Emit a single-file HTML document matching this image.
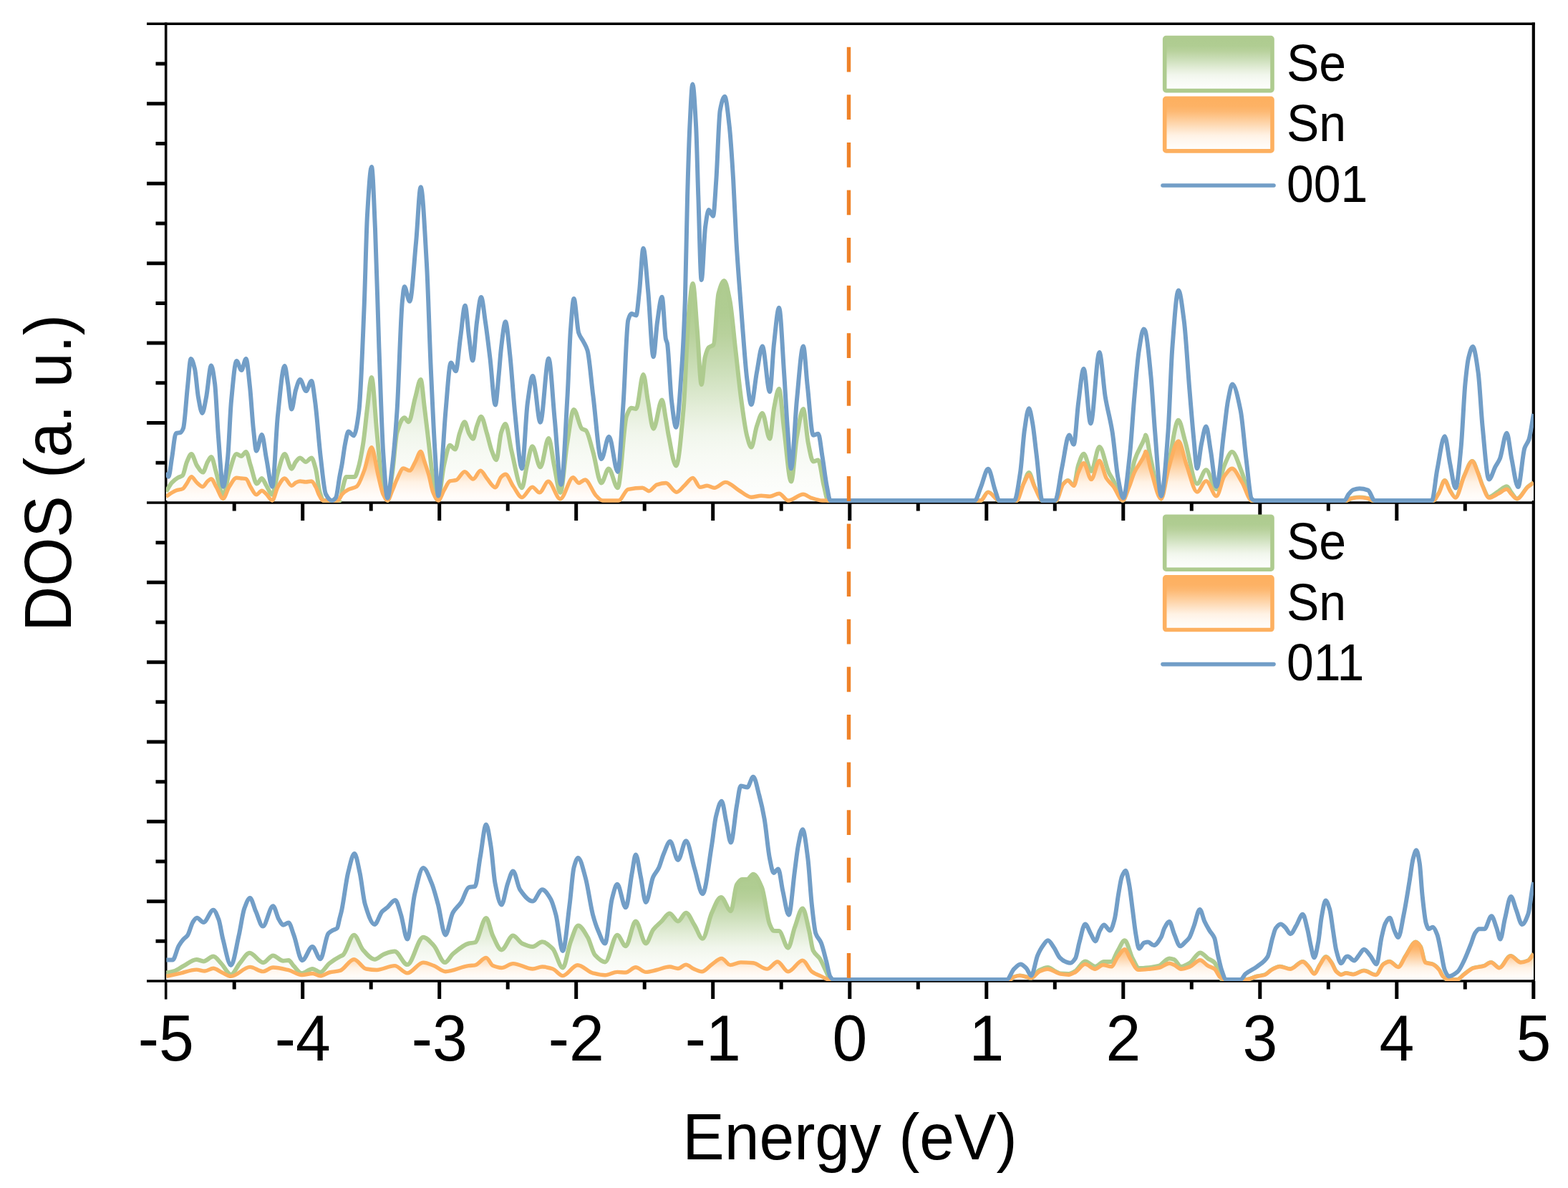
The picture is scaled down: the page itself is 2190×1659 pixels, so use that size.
<!DOCTYPE html>
<html><head><meta charset="utf-8"><title>DOS</title>
<style>
html,body{margin:0;padding:0;background:#fff;}
body{width:2190px;height:1659px;overflow:hidden;}
svg{display:block;filter:blur(0.4px);}
text{font-family:"Liberation Sans",sans-serif;fill:#000;}
.tl text{font-size:86px;}
.lg{font-size:68px;}
.ax{font-size:87.6px;}
</style></head><body>
<svg width="2190" height="1659" viewBox="0 0 2190 1659">
<defs>
<clipPath id="c1"><rect x="231.7" y="33.3" width="1910.1000000000001" height="668.7"/></clipPath>
<clipPath id="c2"><rect x="231.7" y="702.0" width="1910.1000000000001" height="668.0"/></clipPath>
<linearGradient id="lg" x1="0" y1="0" x2="0" y2="1"><stop offset="0" stop-color="#aecb8f"/><stop offset="0.15" stop-color="#b0cd92"/><stop offset="0.25" stop-color="#b8d19c"/><stop offset="0.43" stop-color="#cee0bc"/><stop offset="0.58" stop-color="#e3edd8"/><stop offset="0.7" stop-color="#f1f6ec"/><stop offset="0.8" stop-color="#f7faf4"/><stop offset="0.9" stop-color="#fbfcf9"/><stop offset="1.0" stop-color="#fdfefd"/></linearGradient>
<linearGradient id="lo" x1="0" y1="0" x2="0" y2="1"><stop offset="0" stop-color="#fdb060"/><stop offset="0.15" stop-color="#fdb265"/><stop offset="0.25" stop-color="#fdb973"/><stop offset="0.43" stop-color="#fed0a0"/><stop offset="0.58" stop-color="#fee3c7"/><stop offset="0.7" stop-color="#fff2e4"/><stop offset="0.8" stop-color="#fff7ef"/><stop offset="0.9" stop-color="#fffbf7"/><stop offset="1.0" stop-color="#fffdfc"/></linearGradient>
</defs>
<rect width="2190" height="1659" fill="#fff"/>
<path d="M205,33.3H2143.8" stroke="#000" stroke-width="3.6"/><path d="M231.7,31.499999999999996V1395.5" stroke="#000" stroke-width="3.6"/><path d="M2141.8,31.499999999999996V1371.8" stroke="#000" stroke-width="4.2"/><path d="M205,702.0H2141.8" stroke="#000" stroke-width="3.6"/><path d="M205,1370.0H2141.8" stroke="#000" stroke-width="3.4"/><path d="M217.5,89.0H231.7M205,144.8H231.7M217.5,200.5H231.7M205,256.2H231.7M217.5,311.9H231.7M205,367.7H231.7M217.5,423.4H231.7M205,479.1H231.7M217.5,534.8H231.7M205,590.5H231.7M217.5,646.3H231.7M217.5,757.7H231.7M205,813.3H231.7M217.5,869.0H231.7M205,924.7H231.7M217.5,980.3H231.7M205,1036.0H231.7M217.5,1091.7H231.7M205,1147.3H231.7M217.5,1203.0H231.7M205,1258.7H231.7M217.5,1314.3H231.7M327.2,702.0V713.5M422.7,702.0V727.0M518.2,702.0V713.5M613.7,702.0V727.0M709.2,702.0V713.5M804.7,702.0V727.0M900.2,702.0V713.5M995.7,702.0V727.0M1091.2,702.0V713.5M1186.8,702.0V727.0M1282.3,702.0V713.5M1377.8,702.0V727.0M1473.3,702.0V713.5M1568.8,702.0V727.0M1664.3,702.0V713.5M1759.8,702.0V727.0M1855.3,702.0V713.5M1950.8,702.0V727.0M2046.3,702.0V713.5M327.2,1370.0V1381.5M422.7,1370.0V1395.0M518.2,1370.0V1381.5M613.7,1370.0V1395.0M709.2,1370.0V1381.5M804.7,1370.0V1395.0M900.2,1370.0V1381.5M995.7,1370.0V1395.0M1091.2,1370.0V1381.5M1186.8,1370.0V1395.0M1282.3,1370.0V1381.5M1377.8,1370.0V1395.0M1473.3,1370.0V1381.5M1568.8,1370.0V1395.0M1664.3,1370.0V1381.5M1759.8,1370.0V1395.0M1855.3,1370.0V1381.5M1950.8,1370.0V1395.0M2046.3,1370.0V1381.5M2141.8,1370.0V1395.0" stroke="#000" stroke-width="5" fill="none"/>
<g clip-path="url(#c1)">
<linearGradient id="gg1" gradientUnits="userSpaceOnUse" x1="0" y1="388.9" x2="0" y2="699.0"><stop offset="0" stop-color="#aecb8f"/><stop offset="0.15" stop-color="#b0cd92"/><stop offset="0.25" stop-color="#b8d19c"/><stop offset="0.43" stop-color="#cee0bc"/><stop offset="0.58" stop-color="#e3edd8"/><stop offset="0.7" stop-color="#f1f6ec"/><stop offset="0.8" stop-color="#f7faf4"/><stop offset="0.9" stop-color="#fbfcf9"/><stop offset="1.0" stop-color="#fdfefd"/></linearGradient>
<linearGradient id="og1" gradientUnits="userSpaceOnUse" x1="0" y1="613.0" x2="0" y2="699.0"><stop offset="0" stop-color="#fdb060"/><stop offset="0.15" stop-color="#fdb265"/><stop offset="0.25" stop-color="#fdb973"/><stop offset="0.43" stop-color="#fed0a0"/><stop offset="0.58" stop-color="#fee3c7"/><stop offset="0.7" stop-color="#fff2e4"/><stop offset="0.8" stop-color="#fff7ef"/><stop offset="0.9" stop-color="#fffbf7"/><stop offset="1.0" stop-color="#fffdfc"/></linearGradient>
<path d="M232.0,686.5C234.7,682.3 237.3,676.9 240.0,674.0C242.9,670.9 245.7,668.7 248.6,667.0C250.7,665.7 252.9,665.8 255.0,664.0C257.0,662.4 259.0,649.5 261.0,645.0C263.1,640.3 265.2,634.0 267.3,634.0C269.9,634.0 272.4,646.1 275.0,650.0C277.7,654.1 280.5,659.6 283.2,659.6C285.5,659.6 287.7,648.8 290.0,645.0C291.7,642.2 293.3,638.0 295.0,638.0C297.3,638.0 299.7,652.5 302.0,660.0C305.2,670.4 308.5,692.0 311.7,692.0C314.5,692.0 317.2,668.5 320.0,660.0C323.5,649.4 326.9,634.0 330.4,634.0C332.6,634.0 334.8,637.0 337.0,637.0C339.2,637.0 341.4,631.0 343.6,631.0C345.7,631.0 347.9,643.7 350.0,650.0C352.9,658.6 355.9,675.5 358.8,675.5C361.1,675.5 363.4,668.0 365.7,668.0C367.8,668.0 369.9,674.7 372.0,678.0C374.8,682.3 377.5,690.8 380.3,690.8C382.9,690.8 385.4,668.3 388.0,660.0C391.2,649.6 394.4,634.0 397.6,634.0C400.8,634.0 404.1,654.7 407.3,654.7C409.2,654.7 411.1,647.2 413.0,645.0C415.0,642.6 417.1,639.5 419.1,639.5C421.7,639.5 424.4,645.0 427.0,645.0C429.7,645.0 432.4,639.5 435.1,639.5C437.1,639.5 439.0,647.9 441.0,655.0C442.9,662.0 444.9,682.1 446.8,688.0C448.5,693.3 450.3,699.0 452.0,699.0C459.6,699.0 467.2,699.0 474.8,699.0C476.2,699.0 477.6,685.1 479.0,680.0C480.5,674.4 482.1,666.0 483.6,666.0C487.5,666.0 491.5,666.0 495.4,666.0C496.9,666.0 498.5,659.8 500.0,655.0C502.4,647.3 504.9,634.2 507.3,618.7C509.2,606.6 511.1,584.8 513.0,570.0C515.0,554.4 517.0,527.1 519.0,527.1C521.5,527.1 523.9,578.9 526.4,604.0C528.6,626.4 530.8,658.3 533.0,670.0C535.7,684.5 538.5,699.0 541.2,699.0C543.5,699.0 545.7,675.6 548.0,660.0C550.2,645.1 552.3,611.4 554.5,604.0C557.9,592.3 561.4,583.3 564.8,583.3C566.8,583.3 568.7,589.2 570.7,589.2C573.8,589.2 576.9,565.7 580.0,555.0C582.5,546.2 585.1,530.1 587.6,530.1C589.4,530.1 591.2,555.9 593.0,570.0C594.9,585.2 596.9,602.6 598.8,618.7C600.9,635.9 602.9,659.6 605.0,670.0C607.4,682.0 609.7,695.5 612.1,695.5C614.7,695.5 617.4,661.3 620.0,650.0C622.8,638.1 625.5,621.7 628.3,621.7C630.8,621.7 633.2,627.6 635.7,627.6C637.8,627.6 639.9,610.8 642.0,605.0C644.3,598.5 646.7,589.2 649.0,589.2C651.0,589.2 653.0,601.4 655.0,605.0C656.9,608.4 658.9,612.8 660.8,612.8C662.5,612.8 664.3,599.7 666.0,595.0C668.0,589.6 670.0,581.8 672.0,581.8C674.7,581.8 677.3,596.4 680.0,605.0C682.3,612.5 684.7,624.1 687.0,630.0C689.1,635.3 691.2,642.3 693.3,642.3C695.5,642.3 697.8,610.6 700.0,604.0C702.0,598.1 704.0,592.0 706.0,592.0C708.8,592.0 711.7,618.7 714.5,630.0C719.3,649.3 724.2,681.2 729.0,681.2C731.3,681.2 733.7,659.3 736.0,650.0C738.5,640.1 741.0,623.2 743.5,623.2C747.2,623.2 751.0,652.2 754.7,652.2C758.6,652.2 762.4,612.1 766.3,612.1C768.9,612.1 771.4,638.1 774.0,650.0C776.9,663.3 779.7,687.9 782.6,687.9C785.7,687.9 788.9,638.7 792.0,620.0C795.2,601.1 798.3,571.9 801.5,571.9C805.2,571.9 809.0,596.2 812.7,598.7C814.5,599.9 816.4,599.7 818.2,601.0C821.5,603.2 824.7,619.2 828.0,630.0C832.0,643.1 835.9,674.5 839.9,674.5C843.3,674.5 846.7,654.4 850.1,654.4C854.3,654.4 858.6,681.2 862.8,681.2C866.9,681.2 871.0,591.6 875.1,580.9C877.3,575.1 879.6,569.7 881.8,569.7C884.0,569.7 886.3,571.0 888.5,571.0C891.8,571.0 895.2,522.9 898.5,522.9C900.7,522.9 902.8,548.3 905.0,560.0C907.5,573.7 910.1,598.7 912.6,598.7C916.6,598.7 920.6,558.6 924.6,558.6C926.4,558.6 928.2,575.5 930.0,585.3C931.3,592.4 932.6,602.2 933.9,608.7C937.4,625.9 940.8,650.5 944.3,650.5C947.8,650.5 951.3,608.3 954.8,568.9C957.1,542.7 959.5,464.1 961.8,439.7C963.8,419.1 965.7,395.9 967.7,395.9C969.7,395.9 971.7,436.3 973.7,459.6C975.7,482.9 977.7,537.1 979.7,537.1C981.3,537.1 983.0,506.0 984.6,499.3C986.3,492.5 987.9,487.0 989.6,485.4C991.9,483.1 994.3,483.9 996.6,481.4C998.9,478.9 1001.2,418.4 1003.5,409.8C1006.2,399.8 1008.8,391.9 1011.5,391.9C1014.1,391.9 1016.8,406.6 1019.4,419.8C1022.1,433.2 1024.7,466.2 1027.4,489.4C1030.1,512.6 1032.7,539.5 1035.4,559.0C1038.0,578.2 1040.7,599.1 1043.3,608.7C1045.3,616.0 1047.3,624.6 1049.3,624.6C1051.9,624.6 1054.4,602.4 1057.0,595.0C1059.6,587.5 1062.2,576.9 1064.8,576.9C1068.2,576.9 1071.7,612.7 1075.1,612.7C1077.1,612.7 1079.0,579.9 1081.0,570.0C1083.4,558.1 1085.7,543.1 1088.1,543.1C1090.4,543.1 1092.7,581.0 1095.0,598.8C1098.3,624.5 1101.7,672.4 1105.0,672.4C1107.7,672.4 1110.3,625.1 1113.0,610.0C1116.0,593.2 1118.9,570.9 1121.9,570.9C1124.2,570.9 1126.5,607.6 1128.8,618.7C1131.1,629.9 1133.5,644.5 1135.8,644.5C1138.1,644.5 1140.5,642.5 1142.8,642.5C1145.4,642.5 1148.1,668.0 1150.7,678.3C1152.7,686.1 1154.7,699.0 1156.7,699.0C1166.1,699.0 1175.6,699.0 1185.0,699.0C1246.7,699.0 1308.3,699.0 1370.0,699.0C1373.4,699.0 1376.7,687.4 1380.1,687.4C1385.3,687.4 1390.4,699.0 1395.6,699.0C1403.7,699.0 1411.9,699.0 1420.0,699.0C1423.3,699.0 1426.7,682.5 1430.0,675.0C1432.4,669.7 1434.7,660.0 1437.1,660.0C1439.7,660.0 1442.4,674.5 1445.0,680.0C1448.6,687.5 1452.2,699.0 1455.8,699.0C1462.2,699.0 1468.6,699.0 1475.0,699.0C1478.4,699.0 1481.7,679.7 1485.1,676.0C1487.3,673.6 1489.4,671.1 1491.6,671.1C1494.3,671.1 1497.0,678.4 1499.7,678.4C1501.8,678.4 1503.9,656.2 1506.0,650.0C1508.5,642.6 1511.1,633.7 1513.6,633.7C1517.1,633.7 1520.7,658.1 1524.2,658.1C1528.0,658.1 1531.7,623.9 1535.5,623.9C1539.9,623.9 1544.2,650.6 1548.6,659.7C1550.8,664.2 1552.9,666.9 1555.1,671.0C1559.4,679.2 1563.8,699.0 1568.1,699.0C1571.1,699.0 1574.0,688.9 1577.0,680.0C1579.5,672.6 1581.9,651.5 1584.4,643.5C1589.4,627.5 1594.3,624.0 1599.3,609.9C1599.5,609.2 1599.8,607.6 1600.0,607.6C1602.3,607.6 1604.7,630.1 1607.0,640.0C1611.9,660.9 1616.9,696.7 1621.8,696.7C1625.2,696.7 1628.6,665.5 1632.0,650.0C1636.6,628.9 1641.3,586.8 1645.9,586.8C1648.9,586.8 1652.0,605.0 1655.0,615.0C1660.7,633.6 1666.3,675.5 1672.0,675.5C1676.2,675.5 1680.3,656.2 1684.5,656.2C1689.3,656.2 1694.2,683.2 1699.0,683.2C1702.7,683.2 1706.3,658.1 1710.0,650.0C1713.6,642.0 1717.2,631.1 1720.8,631.1C1725.4,631.1 1730.1,648.9 1734.7,660.1C1739.2,671.0 1743.7,699.0 1748.2,699.0C1749.5,699.0 1750.7,699.0 1752.0,699.0C1794.7,699.0 1837.3,699.0 1880.0,699.0C1882.7,699.0 1885.3,696.5 1888.0,696.0C1891.6,695.3 1895.2,694.6 1898.8,694.6C1902.5,694.6 1906.3,695.3 1910.0,696.0C1912.7,696.5 1915.3,699.0 1918.0,699.0C1946.0,699.0 1974.0,699.0 2002.0,699.0C2004.7,699.0 2007.3,692.5 2010.0,688.0C2012.6,683.6 2015.2,671.0 2017.8,671.0C2020.2,671.0 2022.6,681.3 2025.0,685.0C2027.6,689.1 2030.3,695.1 2032.9,695.1C2036.9,695.1 2041.0,673.6 2045.0,665.0C2048.8,657.0 2052.5,643.9 2056.3,643.9C2058.9,643.9 2061.4,653.8 2064.0,660.0C2066.2,665.3 2068.4,673.7 2070.6,678.5C2073.6,685.0 2076.6,694.0 2079.6,694.0C2084.1,694.0 2088.7,688.7 2093.2,686.0C2097.0,683.8 2100.7,679.3 2104.5,679.3C2106.7,679.3 2108.8,685.4 2111.0,688.0C2113.6,691.2 2116.2,696.6 2118.8,696.6C2123.8,696.6 2128.9,684.4 2133.9,680.0C2136.6,677.7 2139.3,676.0 2142.0,674.0L2142.0,699.0L232.0,699.0Z" fill="url(#gg1)" stroke="none"/>
<path d="M232.0,686.5C234.7,682.3 237.3,676.9 240.0,674.0C242.9,670.9 245.7,668.7 248.6,667.0C250.7,665.7 252.9,665.8 255.0,664.0C257.0,662.4 259.0,649.5 261.0,645.0C263.1,640.3 265.2,634.0 267.3,634.0C269.9,634.0 272.4,646.1 275.0,650.0C277.7,654.1 280.5,659.6 283.2,659.6C285.5,659.6 287.7,648.8 290.0,645.0C291.7,642.2 293.3,638.0 295.0,638.0C297.3,638.0 299.7,652.5 302.0,660.0C305.2,670.4 308.5,692.0 311.7,692.0C314.5,692.0 317.2,668.5 320.0,660.0C323.5,649.4 326.9,634.0 330.4,634.0C332.6,634.0 334.8,637.0 337.0,637.0C339.2,637.0 341.4,631.0 343.6,631.0C345.7,631.0 347.9,643.7 350.0,650.0C352.9,658.6 355.9,675.5 358.8,675.5C361.1,675.5 363.4,668.0 365.7,668.0C367.8,668.0 369.9,674.7 372.0,678.0C374.8,682.3 377.5,690.8 380.3,690.8C382.9,690.8 385.4,668.3 388.0,660.0C391.2,649.6 394.4,634.0 397.6,634.0C400.8,634.0 404.1,654.7 407.3,654.7C409.2,654.7 411.1,647.2 413.0,645.0C415.0,642.6 417.1,639.5 419.1,639.5C421.7,639.5 424.4,645.0 427.0,645.0C429.7,645.0 432.4,639.5 435.1,639.5C437.1,639.5 439.0,647.9 441.0,655.0C442.9,662.0 444.9,682.1 446.8,688.0C448.5,693.3 450.3,699.0 452.0,699.0C459.6,699.0 467.2,699.0 474.8,699.0C476.2,699.0 477.6,685.1 479.0,680.0C480.5,674.4 482.1,666.0 483.6,666.0C487.5,666.0 491.5,666.0 495.4,666.0C496.9,666.0 498.5,659.8 500.0,655.0C502.4,647.3 504.9,634.2 507.3,618.7C509.2,606.6 511.1,584.8 513.0,570.0C515.0,554.4 517.0,527.1 519.0,527.1C521.5,527.1 523.9,578.9 526.4,604.0C528.6,626.4 530.8,658.3 533.0,670.0C535.7,684.5 538.5,699.0 541.2,699.0C543.5,699.0 545.7,675.6 548.0,660.0C550.2,645.1 552.3,611.4 554.5,604.0C557.9,592.3 561.4,583.3 564.8,583.3C566.8,583.3 568.7,589.2 570.7,589.2C573.8,589.2 576.9,565.7 580.0,555.0C582.5,546.2 585.1,530.1 587.6,530.1C589.4,530.1 591.2,555.9 593.0,570.0C594.9,585.2 596.9,602.6 598.8,618.7C600.9,635.9 602.9,659.6 605.0,670.0C607.4,682.0 609.7,695.5 612.1,695.5C614.7,695.5 617.4,661.3 620.0,650.0C622.8,638.1 625.5,621.7 628.3,621.7C630.8,621.7 633.2,627.6 635.7,627.6C637.8,627.6 639.9,610.8 642.0,605.0C644.3,598.5 646.7,589.2 649.0,589.2C651.0,589.2 653.0,601.4 655.0,605.0C656.9,608.4 658.9,612.8 660.8,612.8C662.5,612.8 664.3,599.7 666.0,595.0C668.0,589.6 670.0,581.8 672.0,581.8C674.7,581.8 677.3,596.4 680.0,605.0C682.3,612.5 684.7,624.1 687.0,630.0C689.1,635.3 691.2,642.3 693.3,642.3C695.5,642.3 697.8,610.6 700.0,604.0C702.0,598.1 704.0,592.0 706.0,592.0C708.8,592.0 711.7,618.7 714.5,630.0C719.3,649.3 724.2,681.2 729.0,681.2C731.3,681.2 733.7,659.3 736.0,650.0C738.5,640.1 741.0,623.2 743.5,623.2C747.2,623.2 751.0,652.2 754.7,652.2C758.6,652.2 762.4,612.1 766.3,612.1C768.9,612.1 771.4,638.1 774.0,650.0C776.9,663.3 779.7,687.9 782.6,687.9C785.7,687.9 788.9,638.7 792.0,620.0C795.2,601.1 798.3,571.9 801.5,571.9C805.2,571.9 809.0,596.2 812.7,598.7C814.5,599.9 816.4,599.7 818.2,601.0C821.5,603.2 824.7,619.2 828.0,630.0C832.0,643.1 835.9,674.5 839.9,674.5C843.3,674.5 846.7,654.4 850.1,654.4C854.3,654.4 858.6,681.2 862.8,681.2C866.9,681.2 871.0,591.6 875.1,580.9C877.3,575.1 879.6,569.7 881.8,569.7C884.0,569.7 886.3,571.0 888.5,571.0C891.8,571.0 895.2,522.9 898.5,522.9C900.7,522.9 902.8,548.3 905.0,560.0C907.5,573.7 910.1,598.7 912.6,598.7C916.6,598.7 920.6,558.6 924.6,558.6C926.4,558.6 928.2,575.5 930.0,585.3C931.3,592.4 932.6,602.2 933.9,608.7C937.4,625.9 940.8,650.5 944.3,650.5C947.8,650.5 951.3,608.3 954.8,568.9C957.1,542.7 959.5,464.1 961.8,439.7C963.8,419.1 965.7,395.9 967.7,395.9C969.7,395.9 971.7,436.3 973.7,459.6C975.7,482.9 977.7,537.1 979.7,537.1C981.3,537.1 983.0,506.0 984.6,499.3C986.3,492.5 987.9,487.0 989.6,485.4C991.9,483.1 994.3,483.9 996.6,481.4C998.9,478.9 1001.2,418.4 1003.5,409.8C1006.2,399.8 1008.8,391.9 1011.5,391.9C1014.1,391.9 1016.8,406.6 1019.4,419.8C1022.1,433.2 1024.7,466.2 1027.4,489.4C1030.1,512.6 1032.7,539.5 1035.4,559.0C1038.0,578.2 1040.7,599.1 1043.3,608.7C1045.3,616.0 1047.3,624.6 1049.3,624.6C1051.9,624.6 1054.4,602.4 1057.0,595.0C1059.6,587.5 1062.2,576.9 1064.8,576.9C1068.2,576.9 1071.7,612.7 1075.1,612.7C1077.1,612.7 1079.0,579.9 1081.0,570.0C1083.4,558.1 1085.7,543.1 1088.1,543.1C1090.4,543.1 1092.7,581.0 1095.0,598.8C1098.3,624.5 1101.7,672.4 1105.0,672.4C1107.7,672.4 1110.3,625.1 1113.0,610.0C1116.0,593.2 1118.9,570.9 1121.9,570.9C1124.2,570.9 1126.5,607.6 1128.8,618.7C1131.1,629.9 1133.5,644.5 1135.8,644.5C1138.1,644.5 1140.5,642.5 1142.8,642.5C1145.4,642.5 1148.1,668.0 1150.7,678.3C1152.7,686.1 1154.7,699.0 1156.7,699.0C1166.1,699.0 1175.6,699.0 1185.0,699.0C1246.7,699.0 1308.3,699.0 1370.0,699.0C1373.4,699.0 1376.7,687.4 1380.1,687.4C1385.3,687.4 1390.4,699.0 1395.6,699.0C1403.7,699.0 1411.9,699.0 1420.0,699.0C1423.3,699.0 1426.7,682.5 1430.0,675.0C1432.4,669.7 1434.7,660.0 1437.1,660.0C1439.7,660.0 1442.4,674.5 1445.0,680.0C1448.6,687.5 1452.2,699.0 1455.8,699.0C1462.2,699.0 1468.6,699.0 1475.0,699.0C1478.4,699.0 1481.7,679.7 1485.1,676.0C1487.3,673.6 1489.4,671.1 1491.6,671.1C1494.3,671.1 1497.0,678.4 1499.7,678.4C1501.8,678.4 1503.9,656.2 1506.0,650.0C1508.5,642.6 1511.1,633.7 1513.6,633.7C1517.1,633.7 1520.7,658.1 1524.2,658.1C1528.0,658.1 1531.7,623.9 1535.5,623.9C1539.9,623.9 1544.2,650.6 1548.6,659.7C1550.8,664.2 1552.9,666.9 1555.1,671.0C1559.4,679.2 1563.8,699.0 1568.1,699.0C1571.1,699.0 1574.0,688.9 1577.0,680.0C1579.5,672.6 1581.9,651.5 1584.4,643.5C1589.4,627.5 1594.3,624.0 1599.3,609.9C1599.5,609.2 1599.8,607.6 1600.0,607.6C1602.3,607.6 1604.7,630.1 1607.0,640.0C1611.9,660.9 1616.9,696.7 1621.8,696.7C1625.2,696.7 1628.6,665.5 1632.0,650.0C1636.6,628.9 1641.3,586.8 1645.9,586.8C1648.9,586.8 1652.0,605.0 1655.0,615.0C1660.7,633.6 1666.3,675.5 1672.0,675.5C1676.2,675.5 1680.3,656.2 1684.5,656.2C1689.3,656.2 1694.2,683.2 1699.0,683.2C1702.7,683.2 1706.3,658.1 1710.0,650.0C1713.6,642.0 1717.2,631.1 1720.8,631.1C1725.4,631.1 1730.1,648.9 1734.7,660.1C1739.2,671.0 1743.7,699.0 1748.2,699.0C1749.5,699.0 1750.7,699.0 1752.0,699.0C1794.7,699.0 1837.3,699.0 1880.0,699.0C1882.7,699.0 1885.3,696.5 1888.0,696.0C1891.6,695.3 1895.2,694.6 1898.8,694.6C1902.5,694.6 1906.3,695.3 1910.0,696.0C1912.7,696.5 1915.3,699.0 1918.0,699.0C1946.0,699.0 1974.0,699.0 2002.0,699.0C2004.7,699.0 2007.3,692.5 2010.0,688.0C2012.6,683.6 2015.2,671.0 2017.8,671.0C2020.2,671.0 2022.6,681.3 2025.0,685.0C2027.6,689.1 2030.3,695.1 2032.9,695.1C2036.9,695.1 2041.0,673.6 2045.0,665.0C2048.8,657.0 2052.5,643.9 2056.3,643.9C2058.9,643.9 2061.4,653.8 2064.0,660.0C2066.2,665.3 2068.4,673.7 2070.6,678.5C2073.6,685.0 2076.6,694.0 2079.6,694.0C2084.1,694.0 2088.7,688.7 2093.2,686.0C2097.0,683.8 2100.7,679.3 2104.5,679.3C2106.7,679.3 2108.8,685.4 2111.0,688.0C2113.6,691.2 2116.2,696.6 2118.8,696.6C2123.8,696.6 2128.9,684.4 2133.9,680.0C2136.6,677.7 2139.3,676.0 2142.0,674.0" fill="none" stroke="#aecb8f" stroke-width="6" stroke-linejoin="round"/>
<path d="M232.0,693.5C234.7,691.7 237.3,689.6 240.0,688.0C241.9,686.9 243.9,685.7 245.8,685.0C249.0,683.8 252.3,683.9 255.5,682.4C257.3,681.5 259.2,677.6 261.0,675.0C263.1,672.1 265.2,665.8 267.3,665.8C269.9,665.8 272.4,671.8 275.0,674.0C277.7,676.3 280.5,679.7 283.2,679.7C285.5,679.7 287.7,673.9 290.0,672.0C291.7,670.6 293.3,668.6 295.0,668.6C297.3,668.6 299.7,676.1 302.0,680.0C305.2,685.3 308.5,696.3 311.7,696.3C314.5,696.3 317.2,684.2 320.0,680.0C323.5,674.7 326.9,667.2 330.4,667.2C332.6,667.2 334.8,667.8 337.0,668.0C339.2,668.2 341.4,668.2 343.6,668.6C345.7,669.0 347.9,676.7 350.0,680.0C352.7,684.1 355.4,690.8 358.1,690.8C360.6,690.8 363.2,685.2 365.7,685.2C367.8,685.2 369.9,688.1 372.0,690.0C374.8,692.5 377.5,699.0 380.3,699.0C382.9,699.0 385.4,684.3 388.0,680.0C391.2,674.6 394.4,668.0 397.6,668.0C400.8,668.0 404.1,678.3 407.3,678.3C409.2,678.3 411.1,674.9 413.0,674.0C415.0,673.1 417.1,672.0 419.1,672.0C421.7,672.0 424.4,673.0 427.0,673.0C429.7,673.0 432.4,672.0 435.1,672.0C437.1,672.0 439.0,676.6 441.0,680.0C442.7,682.9 444.3,689.1 446.0,692.0C447.7,694.9 449.3,699.0 451.0,699.0C454.0,699.0 457.0,699.0 460.0,699.0C463.9,699.0 467.9,699.0 471.8,699.0C473.9,699.0 475.9,692.0 478.0,690.0C480.9,687.2 483.7,685.2 486.6,683.7C490.5,681.7 494.5,681.8 498.4,679.2C501.8,676.9 505.3,665.9 508.7,657.1C512.1,648.3 515.6,624.6 519.0,624.6C522.0,624.6 525.0,650.9 528.0,663.0C530.3,672.4 532.7,685.1 535.0,690.0C537.1,694.3 539.1,699.0 541.2,699.0C543.5,699.0 545.7,690.1 548.0,685.0C550.2,680.1 552.3,673.4 554.5,669.0C557.5,663.0 560.4,654.0 563.4,654.0C566.3,654.0 569.3,657.1 572.2,657.1C574.8,657.1 577.4,649.5 580.0,645.0C582.5,640.7 585.1,630.5 587.6,630.5C589.4,630.5 591.2,639.8 593.0,645.0C594.9,650.6 596.9,656.2 598.8,663.0C600.9,670.2 602.9,683.3 605.0,688.0C607.4,693.4 609.7,699.0 612.1,699.0C614.7,699.0 617.4,689.4 620.0,685.0C622.8,680.4 625.5,672.8 628.3,671.9C631.3,671.0 634.2,671.2 637.2,670.4C641.1,669.3 645.1,658.6 649.0,658.6C652.9,658.6 656.9,669.0 660.8,669.0C664.3,669.0 667.7,657.1 671.2,657.1C674.1,657.1 677.1,664.6 680.0,668.0C683.9,672.5 687.9,680.7 691.8,680.7C694.5,680.7 697.3,668.4 700.0,666.0C702.0,664.2 704.0,662.3 706.0,662.3C709.6,662.3 713.2,674.0 716.8,679.0C720.9,684.7 724.9,694.6 729.0,694.6C733.8,694.6 738.7,680.1 743.5,680.1C746.9,680.1 750.2,687.9 753.6,687.9C757.7,687.9 761.7,672.3 765.8,672.3C771.4,672.3 777.0,696.8 782.6,696.8C788.5,696.8 794.5,666.7 800.4,666.7C803.0,666.7 805.6,674.5 808.2,674.5C811.2,674.5 814.1,670.0 817.1,670.0C822.3,670.0 827.5,687.5 832.7,692.4C835.7,695.2 838.6,699.0 841.6,699.0C849.1,699.0 856.5,699.0 864.0,699.0C868.4,699.0 872.9,684.3 877.3,683.4C884.0,682.0 890.7,681.2 897.4,681.2C900.4,681.2 903.3,685.7 906.3,685.7C910.0,685.7 913.8,677.9 917.5,676.8C921.7,675.5 925.8,674.5 930.0,674.5C935.0,674.5 939.9,687.3 944.9,687.3C948.6,687.3 952.3,681.2 956.0,678.0C959.9,674.6 963.8,667.4 967.7,667.4C971.0,667.4 974.4,680.3 977.7,680.3C981.0,680.3 984.3,678.3 987.6,678.3C990.9,678.3 994.3,681.3 997.6,681.3C1002.9,681.3 1008.2,673.4 1013.5,673.4C1019.5,673.4 1025.4,680.8 1031.4,684.3C1037.4,687.8 1043.3,694.2 1049.3,694.2C1053.9,694.2 1058.6,692.3 1063.2,692.3C1067.2,692.3 1071.1,693.3 1075.1,693.3C1079.4,693.3 1083.8,689.3 1088.1,689.3C1092.4,689.3 1096.7,699.0 1101.0,699.0C1108.0,699.0 1114.9,690.3 1121.9,690.3C1125.5,690.3 1129.2,694.0 1132.8,695.2C1138.1,696.9 1143.4,699.0 1148.7,699.0C1151.4,699.0 1154.0,699.0 1156.7,699.0C1166.1,699.0 1175.6,699.0 1185.0,699.0C1246.7,699.0 1308.3,699.0 1370.0,699.0C1373.4,699.0 1376.7,687.4 1380.1,687.4C1385.3,687.4 1390.4,699.0 1395.6,699.0C1403.7,699.0 1411.9,699.0 1420.0,699.0C1423.3,699.0 1426.7,681.5 1430.0,675.0C1432.4,670.4 1434.7,663.0 1437.1,663.0C1439.7,663.0 1442.4,674.9 1445.0,680.0C1448.6,687.0 1452.2,699.0 1455.8,699.0C1462.2,699.0 1468.6,699.0 1475.0,699.0C1478.4,699.0 1481.7,679.7 1485.1,676.0C1487.3,673.6 1489.4,671.1 1491.6,671.1C1494.3,671.1 1497.0,678.4 1499.7,678.4C1501.8,678.4 1503.9,664.6 1506.0,660.0C1508.5,654.4 1511.1,646.7 1513.6,646.7C1517.1,646.7 1520.7,669.5 1524.2,669.5C1528.0,669.5 1531.7,643.5 1535.5,643.5C1538.8,643.5 1542.0,662.7 1545.3,667.9C1548.6,673.1 1551.8,675.0 1555.1,679.3C1559.4,685.0 1563.8,699.0 1568.1,699.0C1571.1,699.0 1574.0,687.2 1577.0,680.0C1579.5,674.1 1581.9,665.2 1584.4,659.7C1589.4,648.7 1594.3,646.4 1599.3,633.0C1599.5,632.4 1599.8,630.4 1600.0,630.4C1602.3,630.4 1604.7,647.6 1607.0,655.0C1611.9,670.6 1616.9,696.7 1621.8,696.7C1625.2,696.7 1628.6,666.4 1632.0,655.0C1636.6,639.4 1641.3,616.0 1645.9,616.0C1649.8,616.0 1653.6,639.8 1657.5,650.4C1662.3,663.6 1667.2,687.0 1672.0,687.0C1676.2,687.0 1680.3,671.6 1684.5,671.6C1689.3,671.6 1694.2,692.9 1699.0,692.9C1702.7,692.9 1706.3,670.2 1710.0,665.0C1713.6,659.9 1717.2,654.3 1720.8,654.3C1725.4,654.3 1730.1,666.2 1734.7,673.6C1739.2,680.8 1743.7,699.0 1748.2,699.0C1749.5,699.0 1750.7,699.0 1752.0,699.0C1794.7,699.0 1837.3,699.0 1880.0,699.0C1882.7,699.0 1885.3,696.5 1888.0,696.0C1891.6,695.3 1895.2,694.6 1898.8,694.6C1902.5,694.6 1906.3,695.3 1910.0,696.0C1912.7,696.5 1915.3,699.0 1918.0,699.0C1946.0,699.0 1974.0,699.0 2002.0,699.0C2004.7,699.0 2007.3,692.5 2010.0,688.0C2012.6,683.6 2015.2,671.0 2017.8,671.0C2020.2,671.0 2022.6,681.3 2025.0,685.0C2027.6,689.1 2030.3,695.1 2032.9,695.1C2036.9,695.1 2041.0,673.6 2045.0,665.0C2048.8,657.0 2052.5,643.9 2056.3,643.9C2058.9,643.9 2061.4,653.8 2064.0,660.0C2066.2,665.3 2068.4,673.6 2070.6,678.5C2073.6,685.2 2076.6,695.1 2079.6,695.1C2084.1,695.1 2088.7,691.3 2093.2,689.1C2097.0,687.3 2100.7,683.1 2104.5,683.1C2106.7,683.1 2108.8,688.0 2111.0,690.0C2113.6,692.5 2116.2,696.6 2118.8,696.6C2123.8,696.6 2128.9,684.4 2133.9,680.0C2136.6,677.7 2139.3,676.0 2142.0,674.0L2142.0,699.0L232.0,699.0Z" fill="url(#og1)" stroke="none"/>
<path d="M232.0,693.5C234.7,691.7 237.3,689.6 240.0,688.0C241.9,686.9 243.9,685.7 245.8,685.0C249.0,683.8 252.3,683.9 255.5,682.4C257.3,681.5 259.2,677.6 261.0,675.0C263.1,672.1 265.2,665.8 267.3,665.8C269.9,665.8 272.4,671.8 275.0,674.0C277.7,676.3 280.5,679.7 283.2,679.7C285.5,679.7 287.7,673.9 290.0,672.0C291.7,670.6 293.3,668.6 295.0,668.6C297.3,668.6 299.7,676.1 302.0,680.0C305.2,685.3 308.5,696.3 311.7,696.3C314.5,696.3 317.2,684.2 320.0,680.0C323.5,674.7 326.9,667.2 330.4,667.2C332.6,667.2 334.8,667.8 337.0,668.0C339.2,668.2 341.4,668.2 343.6,668.6C345.7,669.0 347.9,676.7 350.0,680.0C352.7,684.1 355.4,690.8 358.1,690.8C360.6,690.8 363.2,685.2 365.7,685.2C367.8,685.2 369.9,688.1 372.0,690.0C374.8,692.5 377.5,699.0 380.3,699.0C382.9,699.0 385.4,684.3 388.0,680.0C391.2,674.6 394.4,668.0 397.6,668.0C400.8,668.0 404.1,678.3 407.3,678.3C409.2,678.3 411.1,674.9 413.0,674.0C415.0,673.1 417.1,672.0 419.1,672.0C421.7,672.0 424.4,673.0 427.0,673.0C429.7,673.0 432.4,672.0 435.1,672.0C437.1,672.0 439.0,676.6 441.0,680.0C442.7,682.9 444.3,689.1 446.0,692.0C447.7,694.9 449.3,699.0 451.0,699.0C454.0,699.0 457.0,699.0 460.0,699.0C463.9,699.0 467.9,699.0 471.8,699.0C473.9,699.0 475.9,692.0 478.0,690.0C480.9,687.2 483.7,685.2 486.6,683.7C490.5,681.7 494.5,681.8 498.4,679.2C501.8,676.9 505.3,665.9 508.7,657.1C512.1,648.3 515.6,624.6 519.0,624.6C522.0,624.6 525.0,650.9 528.0,663.0C530.3,672.4 532.7,685.1 535.0,690.0C537.1,694.3 539.1,699.0 541.2,699.0C543.5,699.0 545.7,690.1 548.0,685.0C550.2,680.1 552.3,673.4 554.5,669.0C557.5,663.0 560.4,654.0 563.4,654.0C566.3,654.0 569.3,657.1 572.2,657.1C574.8,657.1 577.4,649.5 580.0,645.0C582.5,640.7 585.1,630.5 587.6,630.5C589.4,630.5 591.2,639.8 593.0,645.0C594.9,650.6 596.9,656.2 598.8,663.0C600.9,670.2 602.9,683.3 605.0,688.0C607.4,693.4 609.7,699.0 612.1,699.0C614.7,699.0 617.4,689.4 620.0,685.0C622.8,680.4 625.5,672.8 628.3,671.9C631.3,671.0 634.2,671.2 637.2,670.4C641.1,669.3 645.1,658.6 649.0,658.6C652.9,658.6 656.9,669.0 660.8,669.0C664.3,669.0 667.7,657.1 671.2,657.1C674.1,657.1 677.1,664.6 680.0,668.0C683.9,672.5 687.9,680.7 691.8,680.7C694.5,680.7 697.3,668.4 700.0,666.0C702.0,664.2 704.0,662.3 706.0,662.3C709.6,662.3 713.2,674.0 716.8,679.0C720.9,684.7 724.9,694.6 729.0,694.6C733.8,694.6 738.7,680.1 743.5,680.1C746.9,680.1 750.2,687.9 753.6,687.9C757.7,687.9 761.7,672.3 765.8,672.3C771.4,672.3 777.0,696.8 782.6,696.8C788.5,696.8 794.5,666.7 800.4,666.7C803.0,666.7 805.6,674.5 808.2,674.5C811.2,674.5 814.1,670.0 817.1,670.0C822.3,670.0 827.5,687.5 832.7,692.4C835.7,695.2 838.6,699.0 841.6,699.0C849.1,699.0 856.5,699.0 864.0,699.0C868.4,699.0 872.9,684.3 877.3,683.4C884.0,682.0 890.7,681.2 897.4,681.2C900.4,681.2 903.3,685.7 906.3,685.7C910.0,685.7 913.8,677.9 917.5,676.8C921.7,675.5 925.8,674.5 930.0,674.5C935.0,674.5 939.9,687.3 944.9,687.3C948.6,687.3 952.3,681.2 956.0,678.0C959.9,674.6 963.8,667.4 967.7,667.4C971.0,667.4 974.4,680.3 977.7,680.3C981.0,680.3 984.3,678.3 987.6,678.3C990.9,678.3 994.3,681.3 997.6,681.3C1002.9,681.3 1008.2,673.4 1013.5,673.4C1019.5,673.4 1025.4,680.8 1031.4,684.3C1037.4,687.8 1043.3,694.2 1049.3,694.2C1053.9,694.2 1058.6,692.3 1063.2,692.3C1067.2,692.3 1071.1,693.3 1075.1,693.3C1079.4,693.3 1083.8,689.3 1088.1,689.3C1092.4,689.3 1096.7,699.0 1101.0,699.0C1108.0,699.0 1114.9,690.3 1121.9,690.3C1125.5,690.3 1129.2,694.0 1132.8,695.2C1138.1,696.9 1143.4,699.0 1148.7,699.0C1151.4,699.0 1154.0,699.0 1156.7,699.0C1166.1,699.0 1175.6,699.0 1185.0,699.0C1246.7,699.0 1308.3,699.0 1370.0,699.0C1373.4,699.0 1376.7,687.4 1380.1,687.4C1385.3,687.4 1390.4,699.0 1395.6,699.0C1403.7,699.0 1411.9,699.0 1420.0,699.0C1423.3,699.0 1426.7,681.5 1430.0,675.0C1432.4,670.4 1434.7,663.0 1437.1,663.0C1439.7,663.0 1442.4,674.9 1445.0,680.0C1448.6,687.0 1452.2,699.0 1455.8,699.0C1462.2,699.0 1468.6,699.0 1475.0,699.0C1478.4,699.0 1481.7,679.7 1485.1,676.0C1487.3,673.6 1489.4,671.1 1491.6,671.1C1494.3,671.1 1497.0,678.4 1499.7,678.4C1501.8,678.4 1503.9,664.6 1506.0,660.0C1508.5,654.4 1511.1,646.7 1513.6,646.7C1517.1,646.7 1520.7,669.5 1524.2,669.5C1528.0,669.5 1531.7,643.5 1535.5,643.5C1538.8,643.5 1542.0,662.7 1545.3,667.9C1548.6,673.1 1551.8,675.0 1555.1,679.3C1559.4,685.0 1563.8,699.0 1568.1,699.0C1571.1,699.0 1574.0,687.2 1577.0,680.0C1579.5,674.1 1581.9,665.2 1584.4,659.7C1589.4,648.7 1594.3,646.4 1599.3,633.0C1599.5,632.4 1599.8,630.4 1600.0,630.4C1602.3,630.4 1604.7,647.6 1607.0,655.0C1611.9,670.6 1616.9,696.7 1621.8,696.7C1625.2,696.7 1628.6,666.4 1632.0,655.0C1636.6,639.4 1641.3,616.0 1645.9,616.0C1649.8,616.0 1653.6,639.8 1657.5,650.4C1662.3,663.6 1667.2,687.0 1672.0,687.0C1676.2,687.0 1680.3,671.6 1684.5,671.6C1689.3,671.6 1694.2,692.9 1699.0,692.9C1702.7,692.9 1706.3,670.2 1710.0,665.0C1713.6,659.9 1717.2,654.3 1720.8,654.3C1725.4,654.3 1730.1,666.2 1734.7,673.6C1739.2,680.8 1743.7,699.0 1748.2,699.0C1749.5,699.0 1750.7,699.0 1752.0,699.0C1794.7,699.0 1837.3,699.0 1880.0,699.0C1882.7,699.0 1885.3,696.5 1888.0,696.0C1891.6,695.3 1895.2,694.6 1898.8,694.6C1902.5,694.6 1906.3,695.3 1910.0,696.0C1912.7,696.5 1915.3,699.0 1918.0,699.0C1946.0,699.0 1974.0,699.0 2002.0,699.0C2004.7,699.0 2007.3,692.5 2010.0,688.0C2012.6,683.6 2015.2,671.0 2017.8,671.0C2020.2,671.0 2022.6,681.3 2025.0,685.0C2027.6,689.1 2030.3,695.1 2032.9,695.1C2036.9,695.1 2041.0,673.6 2045.0,665.0C2048.8,657.0 2052.5,643.9 2056.3,643.9C2058.9,643.9 2061.4,653.8 2064.0,660.0C2066.2,665.3 2068.4,673.6 2070.6,678.5C2073.6,685.2 2076.6,695.1 2079.6,695.1C2084.1,695.1 2088.7,691.3 2093.2,689.1C2097.0,687.3 2100.7,683.1 2104.5,683.1C2106.7,683.1 2108.8,688.0 2111.0,690.0C2113.6,692.5 2116.2,696.6 2118.8,696.6C2123.8,696.6 2128.9,684.4 2133.9,680.0C2136.6,677.7 2139.3,676.0 2142.0,674.0" fill="none" stroke="#fdb060" stroke-width="5.4" stroke-linejoin="round"/>
<path d="M232.0,660.0C233.1,661.9 234.3,665.8 235.4,665.8C236.9,665.8 238.5,648.9 240.0,640.0C241.9,628.8 243.9,605.6 245.8,605.0C247.9,604.3 249.9,604.6 252.0,604.0C253.3,603.6 254.7,601.3 256.0,598.0C258.0,593.0 260.0,558.0 262.0,540.0C263.5,526.2 265.1,501.0 266.6,501.0C268.4,501.0 270.2,507.9 272.0,515.0C273.7,521.6 275.3,546.1 277.0,555.0C278.8,564.8 280.7,577.0 282.5,577.0C284.3,577.0 286.2,563.9 288.0,555.0C290.3,543.6 292.7,510.5 295.0,510.5C296.7,510.5 298.3,522.7 300.0,535.0C301.7,547.3 303.3,589.3 305.0,610.0C307.2,637.7 309.5,679.7 311.7,679.7C313.8,679.7 315.9,659.3 318.0,640.0C319.7,624.7 321.3,577.5 323.0,560.0C325.5,534.1 327.9,504.0 330.4,504.0C332.7,504.0 335.0,517.0 337.3,517.0C339.4,517.0 341.5,501.0 343.6,501.0C345.4,501.0 347.2,523.7 349.0,540.0C350.7,555.1 352.3,585.1 354.0,600.0C355.4,612.2 356.7,629.7 358.1,629.7C360.6,629.7 363.2,607.0 365.7,607.0C367.8,607.0 369.9,629.5 372.0,640.0C374.8,653.9 377.5,679.7 380.3,679.7C382.9,679.7 385.4,604.0 388.0,580.0C391.2,550.1 394.4,511.0 397.6,511.0C399.1,511.0 400.5,526.1 402.0,535.0C403.8,545.7 405.5,571.5 407.3,571.5C409.2,571.5 411.1,551.1 413.0,545.0C415.0,538.4 417.1,530.0 419.1,530.0C421.9,530.0 424.6,546.0 427.4,546.0C430.0,546.0 432.5,532.0 435.1,532.0C436.7,532.0 438.4,548.4 440.0,560.0C442.7,579.0 445.3,617.9 448.0,640.0C450.3,659.4 452.7,685.6 455.0,690.0C457.8,695.4 460.7,699.0 463.5,699.0C465.3,699.0 467.2,697.4 469.0,695.0C470.9,692.6 472.7,673.9 474.6,664.0C475.6,658.5 476.7,653.9 477.7,648.0C479.1,639.8 480.6,626.9 482.0,620.0C483.5,612.6 485.1,602.5 486.6,602.5C489.1,602.5 491.5,608.4 494.0,608.4C496.4,608.4 498.9,592.8 501.3,574.4C503.8,555.8 506.2,486.4 508.7,426.7C510.1,392.0 511.6,323.8 513.0,300.0C515.0,266.8 517.0,233.0 519.0,233.0C520.7,233.0 522.3,283.1 524.0,320.0C525.8,359.8 527.6,436.1 529.4,485.8C531.4,540.1 533.3,604.4 535.3,633.5C537.3,662.6 539.2,695.5 541.2,695.5C543.5,695.5 545.7,669.3 548.0,650.0C550.2,631.6 552.3,606.5 554.5,574.4C557.0,537.8 559.4,445.2 561.9,420.8C562.9,411.2 563.8,400.2 564.8,400.2C567.3,400.2 569.7,420.8 572.2,420.8C575.2,420.8 578.1,369.1 581.1,338.0C583.3,315.3 585.4,261.3 587.6,261.3C590.4,261.3 593.1,319.9 595.9,367.7C597.9,401.7 599.8,471.5 601.8,515.3C603.8,559.1 605.7,602.2 607.7,633.5C609.2,656.8 610.6,692.5 612.1,692.5C613.7,692.5 615.4,667.4 617.0,650.0C618.8,630.8 620.6,594.6 622.4,574.4C624.9,546.8 627.3,506.5 629.8,506.5C632.1,506.5 634.3,518.3 636.6,518.3C638.8,518.3 640.9,486.3 643.1,471.0C645.3,455.7 647.4,426.7 649.6,426.7C651.4,426.7 653.2,457.1 655.0,470.0C656.7,482.4 658.5,503.5 660.2,503.5C662.1,503.5 664.1,463.8 666.0,450.0C668.0,435.7 670.0,415.0 672.0,415.0C674.0,415.0 676.0,436.7 678.0,450.0C680.2,464.4 682.3,482.6 684.5,500.6C686.9,520.8 689.4,565.5 691.8,565.5C693.4,565.5 695.1,539.0 696.7,522.9C697.8,512.0 698.9,494.7 700.0,485.8C702.0,469.5 704.0,449.3 706.0,449.3C708.1,449.3 710.2,477.0 712.3,496.0C714.5,516.2 716.8,552.7 719.0,574.2C722.3,606.3 725.7,654.4 729.0,654.4C731.6,654.4 734.2,581.8 736.8,563.0C739.2,545.7 741.6,525.1 744.0,525.1C747.6,525.1 751.1,589.8 754.7,589.8C758.6,589.8 762.4,500.6 766.3,500.6C769.1,500.6 771.9,557.0 774.7,585.3C777.7,615.7 780.7,676.8 783.7,676.8C786.7,676.8 789.6,602.8 792.6,551.9C794.1,526.7 795.5,479.3 797.0,460.0C798.5,440.3 800.0,416.9 801.5,416.9C803.7,416.9 806.0,458.4 808.2,464.9C810.4,471.4 812.7,472.7 814.9,477.2C816.8,480.9 818.6,483.2 820.5,489.4C823.1,498.0 825.7,531.5 828.3,551.9C832.2,582.3 836.0,641.1 839.9,641.1C843.5,641.1 847.0,609.8 850.6,609.8C854.7,609.8 858.7,658.9 862.8,658.9C865.4,658.9 868.0,600.5 870.6,563.0C872.8,530.7 875.1,454.5 877.3,447.0C878.8,441.9 880.3,438.1 881.8,438.1C884.0,438.1 886.3,440.4 888.5,440.4C890.0,440.4 891.5,420.1 893.0,406.9C894.8,390.8 896.7,346.7 898.5,346.7C900.7,346.7 903.0,383.7 905.2,406.9C907.7,432.5 910.1,498.3 912.6,498.3C914.4,498.3 916.2,462.2 918.0,450.0C920.2,435.1 922.4,414.7 924.6,414.7C926.4,414.7 928.2,466.1 930.0,473.8C930.6,476.5 931.3,476.6 931.9,479.4C933.9,488.1 935.9,542.6 937.9,559.0C940.0,576.5 942.2,596.8 944.3,596.8C946.8,596.8 949.3,554.0 951.8,519.2C953.5,496.0 955.1,466.8 956.8,419.8C957.9,388.8 959.0,312.6 960.1,273.6C961.2,234.6 962.3,198.1 963.4,176.0C964.7,149.9 966.0,117.4 967.3,117.4C968.9,117.4 970.5,147.3 972.1,176.0C973.2,195.1 974.2,243.1 975.3,273.6C976.8,315.5 978.2,391.0 979.7,391.0C981.5,391.0 983.3,330.0 985.1,317.0C986.7,305.4 988.3,293.1 989.9,293.1C991.9,293.1 994.0,301.8 996.0,301.8C997.4,301.8 998.9,272.0 1000.3,251.9C1002.1,226.7 1003.9,163.8 1005.7,154.3C1007.9,142.8 1010.0,134.7 1012.2,134.7C1014.4,134.7 1016.5,157.0 1018.7,176.0C1020.5,192.1 1022.4,221.6 1024.2,251.9C1025.6,275.6 1027.1,314.8 1028.5,338.7C1030.3,368.8 1032.1,390.2 1033.9,414.7C1035.0,430.1 1036.2,445.5 1037.3,459.6C1039.3,484.5 1041.3,513.4 1043.3,529.2C1045.3,545.0 1047.3,565.0 1049.3,565.0C1051.9,565.0 1054.4,533.4 1057.0,520.0C1059.6,506.5 1062.2,483.4 1064.8,483.4C1068.2,483.4 1071.7,547.1 1075.1,547.1C1077.1,547.1 1079.0,497.3 1081.0,480.0C1083.4,459.2 1085.7,429.7 1088.1,429.7C1090.4,429.7 1092.7,486.1 1095.0,519.2C1096.7,543.2 1098.3,577.0 1100.0,598.8C1101.7,620.6 1103.3,654.5 1105.0,654.5C1107.6,654.5 1110.3,585.2 1112.9,559.0C1115.9,529.1 1118.9,483.4 1121.9,483.4C1123.9,483.4 1125.8,521.4 1127.8,539.1C1130.5,563.1 1133.1,607.7 1135.8,607.7C1138.1,607.7 1140.5,605.7 1142.8,605.7C1144.8,605.7 1146.7,626.7 1148.7,638.6C1150.7,650.7 1152.7,668.2 1154.7,678.3C1156.4,686.7 1158.0,699.0 1159.7,699.0C1168.1,699.0 1176.6,699.0 1185.0,699.0C1243.8,699.0 1302.6,699.0 1361.4,699.0C1364.3,699.0 1367.1,686.7 1370.0,680.0C1373.4,672.1 1376.7,654.8 1380.1,654.8C1383.4,654.8 1386.7,676.0 1390.0,685.0C1391.9,690.1 1393.7,699.0 1395.6,699.0C1402.6,699.0 1409.7,699.0 1416.7,699.0C1419.5,699.0 1422.2,678.0 1425.0,660.0C1427.0,647.0 1429.0,613.1 1431.0,600.0C1433.0,586.6 1435.1,570.2 1437.1,570.2C1438.7,570.2 1440.4,581.3 1442.0,590.0C1443.9,600.1 1445.8,620.3 1447.7,635.3C1450.4,656.7 1453.1,699.0 1455.8,699.0C1461.8,699.0 1467.7,699.0 1473.7,699.0C1477.0,699.0 1480.2,666.9 1483.5,651.6C1486.7,636.5 1490.0,607.6 1493.2,607.6C1495.4,607.6 1497.5,620.7 1499.7,620.7C1501.9,620.7 1504.0,578.3 1506.2,562.1C1508.7,543.6 1511.1,514.9 1513.6,514.9C1516.8,514.9 1520.1,591.4 1523.3,591.4C1527.4,591.4 1531.4,492.1 1535.5,492.1C1538.2,492.1 1541.0,537.4 1543.7,553.9C1547.0,573.6 1550.2,582.5 1553.5,602.8C1556.2,619.5 1558.9,654.1 1561.6,667.9C1564.0,680.3 1566.5,695.5 1568.9,695.5C1571.9,695.5 1574.9,661.9 1577.9,635.3C1580.1,616.1 1582.2,578.0 1584.4,553.9C1586.6,529.8 1588.7,502.3 1590.9,488.8C1593.1,475.3 1595.2,459.5 1597.4,459.5C1598.0,459.5 1598.7,460.4 1599.3,461.4C1602.0,465.5 1604.7,497.7 1607.4,525.0C1609.3,544.2 1611.2,579.6 1613.1,602.2C1616.0,636.7 1618.9,692.9 1621.8,692.9C1625.0,692.9 1628.3,644.7 1631.5,602.2C1633.4,576.8 1635.4,511.8 1637.3,486.5C1640.2,448.9 1643.0,405.4 1645.9,405.4C1648.5,405.4 1651.1,428.1 1653.7,447.9C1656.3,467.4 1658.8,513.4 1661.4,544.3C1663.3,567.6 1665.3,592.4 1667.2,611.8C1668.8,627.8 1670.4,654.3 1672.0,654.3C1674.0,654.3 1676.0,629.1 1678.0,620.0C1680.2,610.1 1682.3,595.4 1684.5,595.4C1686.7,595.4 1688.8,617.6 1691.0,630.0C1693.7,645.2 1696.3,679.4 1699.0,679.4C1702.5,679.4 1706.1,628.9 1709.6,602.2C1711.4,588.6 1713.2,569.2 1715.0,560.0C1717.1,549.4 1719.1,536.6 1721.2,536.6C1725.0,536.6 1728.9,554.9 1732.7,573.3C1735.3,585.8 1737.9,620.3 1740.5,640.8C1743.1,661.1 1745.6,694.1 1748.2,696.7C1749.5,698.0 1750.7,699.0 1752.0,699.0C1793.9,699.0 1835.8,699.0 1877.7,699.0C1879.7,699.0 1881.7,692.3 1883.7,690.0C1885.8,687.5 1887.9,684.7 1890.0,684.0C1892.9,683.0 1895.9,682.3 1898.8,682.3C1902.8,682.3 1906.8,683.2 1910.8,684.6C1913.8,685.7 1916.9,699.0 1919.9,699.0C1946.5,699.0 1973.2,699.0 1999.8,699.0C2002.3,699.0 2004.8,668.5 2007.3,655.9C2010.8,638.2 2014.3,609.2 2017.8,609.2C2020.3,609.2 2022.9,636.3 2025.4,648.4C2027.9,660.3 2030.4,681.6 2032.9,681.6C2035.4,681.6 2038.0,651.2 2040.5,625.8C2042.5,605.8 2044.5,555.8 2046.5,535.4C2048.0,520.1 2049.5,506.1 2051.0,500.0C2053.0,491.9 2055.0,484.1 2057.0,484.1C2059.5,484.1 2062.1,502.5 2064.6,520.3C2066.6,534.4 2068.6,575.5 2070.6,595.6C2073.6,625.8 2076.6,669.5 2079.6,669.5C2082.6,669.5 2085.7,657.0 2088.7,651.4C2090.7,647.7 2092.7,645.5 2094.7,640.9C2098.0,633.4 2101.2,604.7 2104.5,604.7C2106.8,604.7 2109.0,630.0 2111.3,640.9C2114.3,655.3 2117.3,680.0 2120.3,680.0C2123.3,680.0 2126.4,634.6 2129.4,625.8C2131.4,620.0 2133.4,619.5 2135.4,613.7C2137.6,607.3 2139.8,589.9 2142.0,578.0" fill="none" stroke="#729ec7" stroke-width="6" stroke-linejoin="round"/>
</g>
<g clip-path="url(#c2)">
<linearGradient id="gg2" gradientUnits="userSpaceOnUse" x1="0" y1="1217.7" x2="0" y2="1368.0"><stop offset="0" stop-color="#aecb8f"/><stop offset="0.15" stop-color="#b0cd92"/><stop offset="0.25" stop-color="#b8d19c"/><stop offset="0.43" stop-color="#cee0bc"/><stop offset="0.58" stop-color="#e3edd8"/><stop offset="0.7" stop-color="#f1f6ec"/><stop offset="0.8" stop-color="#f7faf4"/><stop offset="0.9" stop-color="#fbfcf9"/><stop offset="1.0" stop-color="#fdfefd"/></linearGradient>
<linearGradient id="og2" gradientUnits="userSpaceOnUse" x1="0" y1="1312.5" x2="0" y2="1368.0"><stop offset="0" stop-color="#fdb060"/><stop offset="0.15" stop-color="#fdb265"/><stop offset="0.25" stop-color="#fdb973"/><stop offset="0.43" stop-color="#fed0a0"/><stop offset="0.58" stop-color="#fee3c7"/><stop offset="0.7" stop-color="#fff2e4"/><stop offset="0.8" stop-color="#fff7ef"/><stop offset="0.9" stop-color="#fffbf7"/><stop offset="1.0" stop-color="#fffdfc"/></linearGradient>
<path d="M232.4,1358.5C236.1,1357.7 239.8,1357.2 243.5,1356.0C247.6,1354.7 251.8,1351.4 255.9,1349.2C262.1,1346.0 268.2,1339.9 274.4,1339.9C277.7,1339.9 281.0,1342.4 284.3,1342.4C288.8,1342.4 293.4,1335.6 297.9,1335.6C301.6,1335.6 305.3,1341.8 309.0,1345.5C313.5,1350.0 318.1,1360.9 322.6,1360.9C326.7,1360.9 330.9,1349.8 335.0,1345.0C339.5,1339.8 344.1,1330.7 348.6,1330.7C355.0,1330.7 361.3,1344.2 367.7,1344.2C372.2,1344.2 376.8,1334.4 381.3,1334.4C386.0,1334.4 390.8,1341.8 395.5,1341.8C398.0,1341.8 400.5,1341.0 403.0,1341.0C405.5,1341.0 407.9,1346.7 410.4,1349.2C414.1,1352.9 417.8,1359.1 421.5,1359.1C426.4,1359.1 431.4,1352.9 436.3,1352.9C440.0,1352.9 443.7,1357.8 447.4,1357.8C451.5,1357.8 455.7,1348.8 459.8,1345.5C464.9,1341.5 469.9,1338.2 475.0,1335.6C476.3,1334.9 477.6,1334.7 478.9,1333.8C484.1,1330.4 489.2,1305.7 494.4,1305.7C498.6,1305.7 502.7,1321.8 506.9,1326.4C512.3,1332.4 517.8,1339.7 523.2,1339.7C527.6,1339.7 532.1,1333.8 536.5,1332.3C541.4,1330.6 546.3,1328.6 551.2,1328.6C557.1,1328.6 563.0,1347.1 568.9,1347.1C576.3,1347.1 583.7,1308.7 591.1,1308.7C596.0,1308.7 601.0,1315.3 605.9,1320.5C611.1,1325.9 616.2,1344.1 621.4,1344.1C625.1,1344.1 628.7,1335.4 632.4,1332.3C639.8,1326.1 647.2,1319.4 654.6,1317.5C657.5,1316.8 660.5,1316.9 663.4,1316.0C668.6,1314.5 673.8,1282.1 679.0,1282.1C682.2,1282.1 685.3,1300.8 688.5,1307.2C692.5,1315.2 696.4,1326.4 700.4,1326.4C705.8,1326.4 711.2,1306.5 716.6,1306.5C720.8,1306.5 725.0,1315.6 729.2,1317.5C734.1,1319.8 739.1,1322.0 744.0,1322.0C748.4,1322.0 752.9,1315.3 757.3,1315.3C762.2,1315.3 767.1,1320.1 772.0,1324.9C776.7,1329.5 781.3,1351.5 786.0,1351.5C789.7,1351.5 793.3,1324.6 797.0,1315.0C800.5,1305.9 804.0,1292.4 807.5,1292.4C811.9,1292.4 816.4,1301.4 820.8,1308.7C824.2,1314.4 827.7,1330.0 831.1,1333.8C835.8,1338.9 840.4,1343.4 845.1,1343.4C850.8,1343.4 856.4,1305.7 862.1,1305.7C866.0,1305.7 870.0,1321.2 873.9,1321.2C878.6,1321.2 883.2,1286.5 887.9,1286.5C892.6,1286.5 897.3,1317.5 902.0,1317.5C905.4,1317.5 908.9,1302.8 912.3,1298.3C916.2,1293.1 920.2,1290.4 924.1,1286.5C927.8,1282.8 931.5,1275.5 935.2,1275.5C939.1,1275.5 943.1,1286.5 947.0,1286.5C950.7,1286.5 954.4,1274.7 958.1,1274.7C962.1,1274.7 966.0,1285.8 970.0,1292.0C973.8,1297.8 977.5,1310.8 981.3,1310.8C985.5,1310.8 989.8,1284.0 994.0,1275.0C998.3,1265.8 1002.7,1252.9 1007.0,1252.9C1011.6,1252.9 1016.2,1272.2 1020.8,1272.2C1023.5,1272.2 1026.3,1239.8 1029.0,1235.4C1031.5,1231.5 1033.9,1228.2 1036.4,1228.1C1038.9,1228.0 1041.3,1228.1 1043.8,1228.0C1046.5,1227.9 1049.3,1220.7 1052.0,1220.7C1056.0,1220.7 1060.0,1229.8 1064.0,1239.1C1067.7,1247.6 1071.3,1282.0 1075.0,1290.6C1076.8,1294.9 1078.7,1299.7 1080.5,1299.8C1083.0,1299.9 1085.5,1299.9 1088.0,1300.0C1092.2,1300.2 1096.5,1323.7 1100.7,1323.7C1103.8,1323.7 1106.9,1303.4 1110.0,1295.0C1113.7,1285.0 1117.3,1268.5 1121.0,1268.5C1124.0,1268.5 1127.1,1287.3 1130.1,1299.8C1132.0,1307.5 1133.8,1323.6 1135.7,1327.4C1138.8,1333.6 1141.8,1333.8 1144.9,1338.4C1147.9,1343.0 1151.0,1350.9 1154.0,1356.8C1156.0,1360.7 1158.0,1368.0 1160.0,1368.0C1243.3,1368.0 1326.7,1368.0 1410.0,1368.0C1412.3,1368.0 1414.7,1364.7 1417.0,1364.0C1419.4,1363.2 1421.8,1362.4 1424.2,1362.4C1426.8,1362.4 1429.4,1363.4 1432.0,1364.0C1434.7,1364.6 1437.5,1365.8 1440.2,1365.8C1444.0,1365.8 1447.8,1356.9 1451.6,1355.0C1455.6,1353.0 1459.6,1351.0 1463.6,1351.0C1467.4,1351.0 1471.2,1355.3 1475.0,1357.0C1477.1,1357.9 1479.2,1359.3 1481.3,1359.5C1485.1,1359.8 1488.9,1360.0 1492.7,1360.0C1495.8,1360.0 1498.9,1357.8 1502.0,1356.0C1506.5,1353.3 1511.1,1342.4 1515.6,1342.4C1520.3,1342.4 1525.1,1349.8 1529.8,1349.8C1533.8,1349.8 1537.8,1343.0 1541.8,1343.0C1545.2,1343.0 1548.6,1343.0 1552.0,1343.0C1555.0,1343.0 1558.0,1332.7 1561.0,1328.0C1564.3,1322.8 1567.6,1313.3 1570.9,1313.3C1574.5,1313.3 1578.2,1331.8 1581.8,1338.4C1584.8,1343.9 1587.9,1352.1 1590.9,1352.1C1596.3,1352.1 1601.6,1351.5 1607.0,1351.0C1610.7,1350.6 1614.3,1350.0 1618.0,1349.0C1623.1,1347.6 1628.1,1338.4 1633.2,1338.4C1635.5,1338.4 1637.7,1339.2 1640.0,1340.0C1643.1,1341.2 1646.3,1349.8 1649.4,1349.8C1653.6,1349.8 1657.8,1347.0 1662.0,1344.5C1666.7,1341.7 1671.5,1330.4 1676.2,1330.4C1679.8,1330.4 1683.5,1336.0 1687.1,1338.4C1690.1,1340.4 1693.2,1341.1 1696.2,1344.1C1698.1,1346.0 1700.0,1351.1 1701.9,1355.5C1703.4,1359.1 1705.0,1368.0 1706.5,1368.0C1717.7,1368.0 1728.8,1368.0 1740.0,1368.0C1745.2,1368.0 1750.4,1364.7 1755.6,1363.5C1759.4,1362.6 1763.2,1362.4 1767.0,1361.2C1770.0,1360.2 1773.1,1356.0 1776.1,1354.4C1779.9,1352.4 1783.7,1349.8 1787.5,1349.8C1792.5,1349.8 1797.4,1353.2 1802.4,1353.2C1808.1,1353.2 1813.8,1343.0 1819.5,1343.0C1822.2,1343.0 1824.8,1347.1 1827.5,1349.8C1830.2,1352.5 1832.8,1360.1 1835.5,1360.1C1838.2,1360.1 1840.8,1351.4 1843.5,1347.5C1846.3,1343.4 1849.2,1336.1 1852.0,1336.1C1854.5,1336.1 1857.0,1340.7 1859.5,1344.1C1861.8,1347.2 1864.0,1354.5 1866.3,1356.7C1868.6,1358.9 1870.9,1361.2 1873.2,1361.2C1875.5,1361.2 1877.7,1359.0 1880.0,1359.0C1883.3,1359.0 1886.7,1360.8 1890.0,1360.8C1895.0,1360.8 1900.0,1355.6 1905.0,1355.6C1910.6,1355.6 1916.2,1361.5 1921.8,1361.5C1925.3,1361.5 1928.7,1349.0 1932.2,1346.6C1935.0,1344.7 1937.8,1342.7 1940.6,1342.7C1944.7,1342.7 1948.8,1350.5 1952.9,1350.5C1956.4,1350.5 1959.8,1339.9 1963.3,1334.9C1968.0,1328.1 1972.8,1315.5 1977.5,1315.5C1979.7,1315.5 1981.8,1318.7 1984.0,1322.0C1986.2,1325.3 1988.3,1342.9 1990.5,1344.0C1994.0,1345.7 1997.4,1345.2 2000.9,1346.6C2003.9,1347.8 2007.0,1350.7 2010.0,1354.3C2011.7,1356.3 2013.4,1361.7 2015.1,1363.4C2017.4,1365.7 2019.7,1368.0 2022.0,1368.0C2026.3,1368.0 2030.7,1368.0 2035.0,1368.0C2038.3,1368.0 2041.6,1363.1 2044.9,1360.8C2049.2,1357.7 2053.6,1353.1 2057.9,1351.8C2062.6,1350.4 2067.4,1350.5 2072.1,1349.2C2075.6,1348.2 2079.0,1344.0 2082.5,1344.0C2086.4,1344.0 2090.2,1351.8 2094.1,1351.8C2099.3,1351.8 2104.5,1334.9 2109.7,1334.9C2114.5,1334.9 2119.2,1344.0 2124.0,1344.0C2127.4,1344.0 2130.9,1342.9 2134.3,1341.4C2136.9,1340.3 2139.4,1335.1 2142.0,1332.0L2142.0,1368.0L232.4,1368.0Z" fill="url(#gg2)" stroke="none"/>
<path d="M232.4,1358.5C236.1,1357.7 239.8,1357.2 243.5,1356.0C247.6,1354.7 251.8,1351.4 255.9,1349.2C262.1,1346.0 268.2,1339.9 274.4,1339.9C277.7,1339.9 281.0,1342.4 284.3,1342.4C288.8,1342.4 293.4,1335.6 297.9,1335.6C301.6,1335.6 305.3,1341.8 309.0,1345.5C313.5,1350.0 318.1,1360.9 322.6,1360.9C326.7,1360.9 330.9,1349.8 335.0,1345.0C339.5,1339.8 344.1,1330.7 348.6,1330.7C355.0,1330.7 361.3,1344.2 367.7,1344.2C372.2,1344.2 376.8,1334.4 381.3,1334.4C386.0,1334.4 390.8,1341.8 395.5,1341.8C398.0,1341.8 400.5,1341.0 403.0,1341.0C405.5,1341.0 407.9,1346.7 410.4,1349.2C414.1,1352.9 417.8,1359.1 421.5,1359.1C426.4,1359.1 431.4,1352.9 436.3,1352.9C440.0,1352.9 443.7,1357.8 447.4,1357.8C451.5,1357.8 455.7,1348.8 459.8,1345.5C464.9,1341.5 469.9,1338.2 475.0,1335.6C476.3,1334.9 477.6,1334.7 478.9,1333.8C484.1,1330.4 489.2,1305.7 494.4,1305.7C498.6,1305.7 502.7,1321.8 506.9,1326.4C512.3,1332.4 517.8,1339.7 523.2,1339.7C527.6,1339.7 532.1,1333.8 536.5,1332.3C541.4,1330.6 546.3,1328.6 551.2,1328.6C557.1,1328.6 563.0,1347.1 568.9,1347.1C576.3,1347.1 583.7,1308.7 591.1,1308.7C596.0,1308.7 601.0,1315.3 605.9,1320.5C611.1,1325.9 616.2,1344.1 621.4,1344.1C625.1,1344.1 628.7,1335.4 632.4,1332.3C639.8,1326.1 647.2,1319.4 654.6,1317.5C657.5,1316.8 660.5,1316.9 663.4,1316.0C668.6,1314.5 673.8,1282.1 679.0,1282.1C682.2,1282.1 685.3,1300.8 688.5,1307.2C692.5,1315.2 696.4,1326.4 700.4,1326.4C705.8,1326.4 711.2,1306.5 716.6,1306.5C720.8,1306.5 725.0,1315.6 729.2,1317.5C734.1,1319.8 739.1,1322.0 744.0,1322.0C748.4,1322.0 752.9,1315.3 757.3,1315.3C762.2,1315.3 767.1,1320.1 772.0,1324.9C776.7,1329.5 781.3,1351.5 786.0,1351.5C789.7,1351.5 793.3,1324.6 797.0,1315.0C800.5,1305.9 804.0,1292.4 807.5,1292.4C811.9,1292.4 816.4,1301.4 820.8,1308.7C824.2,1314.4 827.7,1330.0 831.1,1333.8C835.8,1338.9 840.4,1343.4 845.1,1343.4C850.8,1343.4 856.4,1305.7 862.1,1305.7C866.0,1305.7 870.0,1321.2 873.9,1321.2C878.6,1321.2 883.2,1286.5 887.9,1286.5C892.6,1286.5 897.3,1317.5 902.0,1317.5C905.4,1317.5 908.9,1302.8 912.3,1298.3C916.2,1293.1 920.2,1290.4 924.1,1286.5C927.8,1282.8 931.5,1275.5 935.2,1275.5C939.1,1275.5 943.1,1286.5 947.0,1286.5C950.7,1286.5 954.4,1274.7 958.1,1274.7C962.1,1274.7 966.0,1285.8 970.0,1292.0C973.8,1297.8 977.5,1310.8 981.3,1310.8C985.5,1310.8 989.8,1284.0 994.0,1275.0C998.3,1265.8 1002.7,1252.9 1007.0,1252.9C1011.6,1252.9 1016.2,1272.2 1020.8,1272.2C1023.5,1272.2 1026.3,1239.8 1029.0,1235.4C1031.5,1231.5 1033.9,1228.2 1036.4,1228.1C1038.9,1228.0 1041.3,1228.1 1043.8,1228.0C1046.5,1227.9 1049.3,1220.7 1052.0,1220.7C1056.0,1220.7 1060.0,1229.8 1064.0,1239.1C1067.7,1247.6 1071.3,1282.0 1075.0,1290.6C1076.8,1294.9 1078.7,1299.7 1080.5,1299.8C1083.0,1299.9 1085.5,1299.9 1088.0,1300.0C1092.2,1300.2 1096.5,1323.7 1100.7,1323.7C1103.8,1323.7 1106.9,1303.4 1110.0,1295.0C1113.7,1285.0 1117.3,1268.5 1121.0,1268.5C1124.0,1268.5 1127.1,1287.3 1130.1,1299.8C1132.0,1307.5 1133.8,1323.6 1135.7,1327.4C1138.8,1333.6 1141.8,1333.8 1144.9,1338.4C1147.9,1343.0 1151.0,1350.9 1154.0,1356.8C1156.0,1360.7 1158.0,1368.0 1160.0,1368.0C1243.3,1368.0 1326.7,1368.0 1410.0,1368.0C1412.3,1368.0 1414.7,1364.7 1417.0,1364.0C1419.4,1363.2 1421.8,1362.4 1424.2,1362.4C1426.8,1362.4 1429.4,1363.4 1432.0,1364.0C1434.7,1364.6 1437.5,1365.8 1440.2,1365.8C1444.0,1365.8 1447.8,1356.9 1451.6,1355.0C1455.6,1353.0 1459.6,1351.0 1463.6,1351.0C1467.4,1351.0 1471.2,1355.3 1475.0,1357.0C1477.1,1357.9 1479.2,1359.3 1481.3,1359.5C1485.1,1359.8 1488.9,1360.0 1492.7,1360.0C1495.8,1360.0 1498.9,1357.8 1502.0,1356.0C1506.5,1353.3 1511.1,1342.4 1515.6,1342.4C1520.3,1342.4 1525.1,1349.8 1529.8,1349.8C1533.8,1349.8 1537.8,1343.0 1541.8,1343.0C1545.2,1343.0 1548.6,1343.0 1552.0,1343.0C1555.0,1343.0 1558.0,1332.7 1561.0,1328.0C1564.3,1322.8 1567.6,1313.3 1570.9,1313.3C1574.5,1313.3 1578.2,1331.8 1581.8,1338.4C1584.8,1343.9 1587.9,1352.1 1590.9,1352.1C1596.3,1352.1 1601.6,1351.5 1607.0,1351.0C1610.7,1350.6 1614.3,1350.0 1618.0,1349.0C1623.1,1347.6 1628.1,1338.4 1633.2,1338.4C1635.5,1338.4 1637.7,1339.2 1640.0,1340.0C1643.1,1341.2 1646.3,1349.8 1649.4,1349.8C1653.6,1349.8 1657.8,1347.0 1662.0,1344.5C1666.7,1341.7 1671.5,1330.4 1676.2,1330.4C1679.8,1330.4 1683.5,1336.0 1687.1,1338.4C1690.1,1340.4 1693.2,1341.1 1696.2,1344.1C1698.1,1346.0 1700.0,1351.1 1701.9,1355.5C1703.4,1359.1 1705.0,1368.0 1706.5,1368.0C1717.7,1368.0 1728.8,1368.0 1740.0,1368.0C1745.2,1368.0 1750.4,1364.7 1755.6,1363.5C1759.4,1362.6 1763.2,1362.4 1767.0,1361.2C1770.0,1360.2 1773.1,1356.0 1776.1,1354.4C1779.9,1352.4 1783.7,1349.8 1787.5,1349.8C1792.5,1349.8 1797.4,1353.2 1802.4,1353.2C1808.1,1353.2 1813.8,1343.0 1819.5,1343.0C1822.2,1343.0 1824.8,1347.1 1827.5,1349.8C1830.2,1352.5 1832.8,1360.1 1835.5,1360.1C1838.2,1360.1 1840.8,1351.4 1843.5,1347.5C1846.3,1343.4 1849.2,1336.1 1852.0,1336.1C1854.5,1336.1 1857.0,1340.7 1859.5,1344.1C1861.8,1347.2 1864.0,1354.5 1866.3,1356.7C1868.6,1358.9 1870.9,1361.2 1873.2,1361.2C1875.5,1361.2 1877.7,1359.0 1880.0,1359.0C1883.3,1359.0 1886.7,1360.8 1890.0,1360.8C1895.0,1360.8 1900.0,1355.6 1905.0,1355.6C1910.6,1355.6 1916.2,1361.5 1921.8,1361.5C1925.3,1361.5 1928.7,1349.0 1932.2,1346.6C1935.0,1344.7 1937.8,1342.7 1940.6,1342.7C1944.7,1342.7 1948.8,1350.5 1952.9,1350.5C1956.4,1350.5 1959.8,1339.9 1963.3,1334.9C1968.0,1328.1 1972.8,1315.5 1977.5,1315.5C1979.7,1315.5 1981.8,1318.7 1984.0,1322.0C1986.2,1325.3 1988.3,1342.9 1990.5,1344.0C1994.0,1345.7 1997.4,1345.2 2000.9,1346.6C2003.9,1347.8 2007.0,1350.7 2010.0,1354.3C2011.7,1356.3 2013.4,1361.7 2015.1,1363.4C2017.4,1365.7 2019.7,1368.0 2022.0,1368.0C2026.3,1368.0 2030.7,1368.0 2035.0,1368.0C2038.3,1368.0 2041.6,1363.1 2044.9,1360.8C2049.2,1357.7 2053.6,1353.1 2057.9,1351.8C2062.6,1350.4 2067.4,1350.5 2072.1,1349.2C2075.6,1348.2 2079.0,1344.0 2082.5,1344.0C2086.4,1344.0 2090.2,1351.8 2094.1,1351.8C2099.3,1351.8 2104.5,1334.9 2109.7,1334.9C2114.5,1334.9 2119.2,1344.0 2124.0,1344.0C2127.4,1344.0 2130.9,1342.9 2134.3,1341.4C2136.9,1340.3 2139.4,1335.1 2142.0,1332.0" fill="none" stroke="#aecb8f" stroke-width="6" stroke-linejoin="round"/>
<path d="M232.4,1363.4C238.2,1362.2 243.9,1361.0 249.7,1359.7C257.9,1357.9 266.2,1354.1 274.4,1354.1C278.3,1354.1 282.1,1356.0 286.0,1356.0C290.0,1356.0 293.9,1352.3 297.9,1352.3C301.9,1352.3 306.0,1356.2 310.0,1358.0C314.2,1359.9 318.4,1363.4 322.6,1363.4C331.5,1363.4 340.3,1350.4 349.2,1350.4C355.2,1350.4 361.1,1356.6 367.1,1356.6C371.8,1356.6 376.6,1351.0 381.3,1351.0C388.5,1351.0 395.8,1353.0 403.0,1354.7C409.2,1356.2 415.3,1361.5 421.5,1361.5C426.4,1361.5 431.4,1359.5 436.3,1359.5C440.0,1359.5 443.7,1362.8 447.4,1362.8C451.6,1362.8 455.8,1359.0 460.0,1358.0C465.0,1356.8 470.0,1356.8 475.0,1355.4C481.5,1353.6 487.9,1339.7 494.4,1339.7C500.0,1339.7 505.7,1352.0 511.3,1353.0C516.2,1353.9 521.2,1354.5 526.1,1354.5C534.5,1354.5 542.8,1348.6 551.2,1348.6C557.1,1348.6 563.0,1358.9 568.9,1358.9C576.3,1358.9 583.7,1344.1 591.1,1344.1C596.0,1344.1 601.0,1346.7 605.9,1348.6C611.3,1350.6 616.7,1356.7 622.1,1356.7C632.9,1356.7 643.8,1349.9 654.6,1348.6C657.5,1348.2 660.5,1348.2 663.4,1347.8C668.6,1347.0 673.8,1337.5 679.0,1337.5C682.2,1337.5 685.3,1347.3 688.5,1348.6C692.5,1350.2 696.4,1351.5 700.4,1351.5C705.8,1351.5 711.2,1345.6 716.6,1345.6C725.7,1345.6 734.9,1353.0 744.0,1353.0C748.4,1353.0 752.9,1350.0 757.3,1350.0C762.2,1350.0 767.1,1351.5 772.0,1353.0C776.7,1354.5 781.3,1362.6 786.0,1362.6C792.9,1362.6 799.8,1347.8 806.7,1347.8C813.8,1347.8 821.0,1357.1 828.1,1358.9C833.8,1360.3 839.4,1361.8 845.1,1361.8C850.8,1361.8 856.4,1357.4 862.1,1357.4C866.0,1357.4 870.0,1358.0 873.9,1358.0C878.6,1358.0 883.2,1350.8 887.9,1350.8C892.6,1350.8 897.3,1357.4 902.0,1357.4C907.0,1357.4 912.0,1355.6 917.0,1354.5C923.1,1353.2 929.1,1350.0 935.2,1350.0C939.1,1350.0 943.1,1352.5 947.0,1352.5C950.7,1352.5 954.4,1347.1 958.1,1347.1C961.7,1347.1 965.4,1351.5 969.0,1353.0C972.8,1354.6 976.5,1356.8 980.3,1356.8C984.9,1356.8 989.4,1350.0 994.0,1347.0C998.6,1343.9 1003.3,1338.4 1007.9,1338.4C1011.9,1338.4 1015.9,1347.6 1019.9,1347.6C1024.8,1347.6 1029.7,1343.9 1034.6,1343.9C1040.4,1343.9 1046.2,1344.3 1052.0,1344.8C1058.4,1345.4 1064.9,1353.1 1071.3,1353.1C1076.2,1353.1 1081.1,1343.0 1086.0,1343.0C1090.9,1343.0 1095.8,1356.8 1100.7,1356.8C1107.5,1356.8 1114.2,1341.1 1121.0,1341.1C1125.3,1341.1 1129.5,1353.8 1133.8,1356.8C1138.7,1360.3 1143.6,1361.9 1148.5,1364.1C1151.7,1365.5 1154.8,1368.0 1158.0,1368.0C1242.0,1368.0 1326.0,1368.0 1410.0,1368.0C1412.3,1368.0 1414.7,1364.7 1417.0,1364.0C1419.4,1363.2 1421.8,1362.4 1424.2,1362.4C1426.8,1362.4 1429.4,1363.4 1432.0,1364.0C1434.7,1364.6 1437.5,1365.8 1440.2,1365.8C1444.0,1365.8 1447.8,1358.4 1451.6,1356.7C1455.4,1355.0 1459.3,1353.2 1463.1,1353.2C1469.2,1353.2 1475.2,1359.2 1481.3,1360.1C1485.1,1360.7 1488.9,1361.2 1492.7,1361.2C1495.8,1361.2 1498.9,1359.1 1502.0,1357.5C1506.5,1355.1 1511.1,1346.4 1515.6,1346.4C1520.2,1346.4 1524.7,1353.2 1529.3,1353.2C1533.1,1353.2 1536.9,1347.5 1540.7,1347.5C1544.5,1347.5 1548.3,1349.8 1552.1,1349.8C1555.1,1349.8 1558.2,1339.9 1561.2,1336.1C1564.4,1332.1 1567.7,1325.8 1570.9,1325.8C1573.4,1325.8 1575.9,1334.6 1578.4,1338.4C1582.2,1344.2 1586.0,1354.4 1589.8,1354.4C1595.5,1354.4 1601.3,1353.6 1607.0,1353.0C1611.3,1352.5 1615.7,1352.0 1620.0,1351.0C1624.4,1350.0 1628.8,1345.3 1633.2,1345.3C1635.5,1345.3 1637.7,1346.6 1640.0,1347.5C1643.1,1348.8 1646.3,1353.2 1649.4,1353.2C1653.6,1353.2 1657.8,1351.5 1662.0,1350.0C1666.7,1348.3 1671.5,1340.7 1676.2,1340.7C1679.8,1340.7 1683.5,1346.6 1687.1,1348.7C1690.1,1350.4 1693.2,1350.8 1696.2,1353.0C1698.9,1354.9 1701.5,1362.6 1704.2,1364.7C1706.1,1366.2 1708.1,1368.0 1710.0,1368.0C1720.0,1368.0 1730.0,1368.0 1740.0,1368.0C1745.2,1368.0 1750.4,1364.7 1755.6,1363.5C1759.4,1362.6 1763.2,1362.4 1767.0,1361.2C1770.0,1360.2 1773.1,1356.0 1776.1,1354.4C1779.9,1352.4 1783.7,1349.8 1787.5,1349.8C1792.5,1349.8 1797.4,1353.2 1802.4,1353.2C1808.1,1353.2 1813.8,1343.0 1819.5,1343.0C1822.2,1343.0 1824.8,1347.1 1827.5,1349.8C1830.2,1352.5 1832.8,1360.1 1835.5,1360.1C1838.2,1360.1 1840.8,1351.4 1843.5,1347.5C1846.3,1343.4 1849.2,1336.1 1852.0,1336.1C1854.5,1336.1 1857.0,1340.7 1859.5,1344.1C1861.8,1347.2 1864.0,1354.5 1866.3,1356.7C1868.6,1358.9 1870.9,1361.2 1873.2,1361.2C1875.5,1361.2 1877.7,1359.0 1880.0,1359.0C1883.3,1359.0 1886.7,1360.8 1890.0,1360.8C1895.0,1360.8 1900.0,1355.6 1905.0,1355.6C1910.6,1355.6 1916.2,1361.5 1921.8,1361.5C1925.3,1361.5 1928.7,1349.0 1932.2,1346.6C1935.0,1344.7 1937.8,1342.7 1940.6,1342.7C1944.7,1342.7 1948.8,1350.5 1952.9,1350.5C1956.4,1350.5 1959.8,1339.9 1963.3,1334.9C1968.0,1328.1 1972.8,1315.5 1977.5,1315.5C1979.7,1315.5 1981.8,1318.7 1984.0,1322.0C1986.2,1325.3 1988.3,1342.9 1990.5,1344.0C1994.0,1345.7 1997.4,1345.2 2000.9,1346.6C2003.9,1347.8 2007.0,1350.7 2010.0,1354.3C2011.7,1356.3 2013.4,1361.7 2015.1,1363.4C2017.4,1365.7 2019.7,1368.0 2022.0,1368.0C2026.3,1368.0 2030.7,1368.0 2035.0,1368.0C2038.3,1368.0 2041.6,1363.1 2044.9,1360.8C2049.2,1357.7 2053.6,1353.1 2057.9,1351.8C2062.6,1350.4 2067.4,1350.5 2072.1,1349.2C2075.6,1348.2 2079.0,1344.0 2082.5,1344.0C2086.4,1344.0 2090.2,1351.8 2094.1,1351.8C2099.3,1351.8 2104.5,1334.9 2109.7,1334.9C2114.5,1334.9 2119.2,1344.0 2124.0,1344.0C2127.4,1344.0 2130.9,1342.9 2134.3,1341.4C2136.9,1340.3 2139.4,1335.1 2142.0,1332.0L2142.0,1368.0L232.4,1368.0Z" fill="url(#og2)" stroke="none"/>
<path d="M232.4,1363.4C238.2,1362.2 243.9,1361.0 249.7,1359.7C257.9,1357.9 266.2,1354.1 274.4,1354.1C278.3,1354.1 282.1,1356.0 286.0,1356.0C290.0,1356.0 293.9,1352.3 297.9,1352.3C301.9,1352.3 306.0,1356.2 310.0,1358.0C314.2,1359.9 318.4,1363.4 322.6,1363.4C331.5,1363.4 340.3,1350.4 349.2,1350.4C355.2,1350.4 361.1,1356.6 367.1,1356.6C371.8,1356.6 376.6,1351.0 381.3,1351.0C388.5,1351.0 395.8,1353.0 403.0,1354.7C409.2,1356.2 415.3,1361.5 421.5,1361.5C426.4,1361.5 431.4,1359.5 436.3,1359.5C440.0,1359.5 443.7,1362.8 447.4,1362.8C451.6,1362.8 455.8,1359.0 460.0,1358.0C465.0,1356.8 470.0,1356.8 475.0,1355.4C481.5,1353.6 487.9,1339.7 494.4,1339.7C500.0,1339.7 505.7,1352.0 511.3,1353.0C516.2,1353.9 521.2,1354.5 526.1,1354.5C534.5,1354.5 542.8,1348.6 551.2,1348.6C557.1,1348.6 563.0,1358.9 568.9,1358.9C576.3,1358.9 583.7,1344.1 591.1,1344.1C596.0,1344.1 601.0,1346.7 605.9,1348.6C611.3,1350.6 616.7,1356.7 622.1,1356.7C632.9,1356.7 643.8,1349.9 654.6,1348.6C657.5,1348.2 660.5,1348.2 663.4,1347.8C668.6,1347.0 673.8,1337.5 679.0,1337.5C682.2,1337.5 685.3,1347.3 688.5,1348.6C692.5,1350.2 696.4,1351.5 700.4,1351.5C705.8,1351.5 711.2,1345.6 716.6,1345.6C725.7,1345.6 734.9,1353.0 744.0,1353.0C748.4,1353.0 752.9,1350.0 757.3,1350.0C762.2,1350.0 767.1,1351.5 772.0,1353.0C776.7,1354.5 781.3,1362.6 786.0,1362.6C792.9,1362.6 799.8,1347.8 806.7,1347.8C813.8,1347.8 821.0,1357.1 828.1,1358.9C833.8,1360.3 839.4,1361.8 845.1,1361.8C850.8,1361.8 856.4,1357.4 862.1,1357.4C866.0,1357.4 870.0,1358.0 873.9,1358.0C878.6,1358.0 883.2,1350.8 887.9,1350.8C892.6,1350.8 897.3,1357.4 902.0,1357.4C907.0,1357.4 912.0,1355.6 917.0,1354.5C923.1,1353.2 929.1,1350.0 935.2,1350.0C939.1,1350.0 943.1,1352.5 947.0,1352.5C950.7,1352.5 954.4,1347.1 958.1,1347.1C961.7,1347.1 965.4,1351.5 969.0,1353.0C972.8,1354.6 976.5,1356.8 980.3,1356.8C984.9,1356.8 989.4,1350.0 994.0,1347.0C998.6,1343.9 1003.3,1338.4 1007.9,1338.4C1011.9,1338.4 1015.9,1347.6 1019.9,1347.6C1024.8,1347.6 1029.7,1343.9 1034.6,1343.9C1040.4,1343.9 1046.2,1344.3 1052.0,1344.8C1058.4,1345.4 1064.9,1353.1 1071.3,1353.1C1076.2,1353.1 1081.1,1343.0 1086.0,1343.0C1090.9,1343.0 1095.8,1356.8 1100.7,1356.8C1107.5,1356.8 1114.2,1341.1 1121.0,1341.1C1125.3,1341.1 1129.5,1353.8 1133.8,1356.8C1138.7,1360.3 1143.6,1361.9 1148.5,1364.1C1151.7,1365.5 1154.8,1368.0 1158.0,1368.0C1242.0,1368.0 1326.0,1368.0 1410.0,1368.0C1412.3,1368.0 1414.7,1364.7 1417.0,1364.0C1419.4,1363.2 1421.8,1362.4 1424.2,1362.4C1426.8,1362.4 1429.4,1363.4 1432.0,1364.0C1434.7,1364.6 1437.5,1365.8 1440.2,1365.8C1444.0,1365.8 1447.8,1358.4 1451.6,1356.7C1455.4,1355.0 1459.3,1353.2 1463.1,1353.2C1469.2,1353.2 1475.2,1359.2 1481.3,1360.1C1485.1,1360.7 1488.9,1361.2 1492.7,1361.2C1495.8,1361.2 1498.9,1359.1 1502.0,1357.5C1506.5,1355.1 1511.1,1346.4 1515.6,1346.4C1520.2,1346.4 1524.7,1353.2 1529.3,1353.2C1533.1,1353.2 1536.9,1347.5 1540.7,1347.5C1544.5,1347.5 1548.3,1349.8 1552.1,1349.8C1555.1,1349.8 1558.2,1339.9 1561.2,1336.1C1564.4,1332.1 1567.7,1325.8 1570.9,1325.8C1573.4,1325.8 1575.9,1334.6 1578.4,1338.4C1582.2,1344.2 1586.0,1354.4 1589.8,1354.4C1595.5,1354.4 1601.3,1353.6 1607.0,1353.0C1611.3,1352.5 1615.7,1352.0 1620.0,1351.0C1624.4,1350.0 1628.8,1345.3 1633.2,1345.3C1635.5,1345.3 1637.7,1346.6 1640.0,1347.5C1643.1,1348.8 1646.3,1353.2 1649.4,1353.2C1653.6,1353.2 1657.8,1351.5 1662.0,1350.0C1666.7,1348.3 1671.5,1340.7 1676.2,1340.7C1679.8,1340.7 1683.5,1346.6 1687.1,1348.7C1690.1,1350.4 1693.2,1350.8 1696.2,1353.0C1698.9,1354.9 1701.5,1362.6 1704.2,1364.7C1706.1,1366.2 1708.1,1368.0 1710.0,1368.0C1720.0,1368.0 1730.0,1368.0 1740.0,1368.0C1745.2,1368.0 1750.4,1364.7 1755.6,1363.5C1759.4,1362.6 1763.2,1362.4 1767.0,1361.2C1770.0,1360.2 1773.1,1356.0 1776.1,1354.4C1779.9,1352.4 1783.7,1349.8 1787.5,1349.8C1792.5,1349.8 1797.4,1353.2 1802.4,1353.2C1808.1,1353.2 1813.8,1343.0 1819.5,1343.0C1822.2,1343.0 1824.8,1347.1 1827.5,1349.8C1830.2,1352.5 1832.8,1360.1 1835.5,1360.1C1838.2,1360.1 1840.8,1351.4 1843.5,1347.5C1846.3,1343.4 1849.2,1336.1 1852.0,1336.1C1854.5,1336.1 1857.0,1340.7 1859.5,1344.1C1861.8,1347.2 1864.0,1354.5 1866.3,1356.7C1868.6,1358.9 1870.9,1361.2 1873.2,1361.2C1875.5,1361.2 1877.7,1359.0 1880.0,1359.0C1883.3,1359.0 1886.7,1360.8 1890.0,1360.8C1895.0,1360.8 1900.0,1355.6 1905.0,1355.6C1910.6,1355.6 1916.2,1361.5 1921.8,1361.5C1925.3,1361.5 1928.7,1349.0 1932.2,1346.6C1935.0,1344.7 1937.8,1342.7 1940.6,1342.7C1944.7,1342.7 1948.8,1350.5 1952.9,1350.5C1956.4,1350.5 1959.8,1339.9 1963.3,1334.9C1968.0,1328.1 1972.8,1315.5 1977.5,1315.5C1979.7,1315.5 1981.8,1318.7 1984.0,1322.0C1986.2,1325.3 1988.3,1342.9 1990.5,1344.0C1994.0,1345.7 1997.4,1345.2 2000.9,1346.6C2003.9,1347.8 2007.0,1350.7 2010.0,1354.3C2011.7,1356.3 2013.4,1361.7 2015.1,1363.4C2017.4,1365.7 2019.7,1368.0 2022.0,1368.0C2026.3,1368.0 2030.7,1368.0 2035.0,1368.0C2038.3,1368.0 2041.6,1363.1 2044.9,1360.8C2049.2,1357.7 2053.6,1353.1 2057.9,1351.8C2062.6,1350.4 2067.4,1350.5 2072.1,1349.2C2075.6,1348.2 2079.0,1344.0 2082.5,1344.0C2086.4,1344.0 2090.2,1351.8 2094.1,1351.8C2099.3,1351.8 2104.5,1334.9 2109.7,1334.9C2114.5,1334.9 2119.2,1344.0 2124.0,1344.0C2127.4,1344.0 2130.9,1342.9 2134.3,1341.4C2136.9,1340.3 2139.4,1335.1 2142.0,1332.0" fill="none" stroke="#fdb060" stroke-width="5.4" stroke-linejoin="round"/>
<path d="M232.4,1340.5C235.3,1340.5 238.2,1340.5 241.1,1340.5C244.0,1340.5 246.8,1325.7 249.7,1320.8C251.8,1317.2 253.8,1314.5 255.9,1312.1C258.0,1309.7 260.0,1308.8 262.1,1305.9C264.6,1302.4 267.0,1290.9 269.5,1287.4C271.3,1284.8 273.2,1281.8 275.0,1281.8C278.1,1281.8 281.2,1288.0 284.3,1288.0C288.8,1288.0 293.4,1270.7 297.9,1270.7C300.4,1270.7 302.8,1277.4 305.3,1283.7C307.4,1289.0 309.4,1304.1 311.5,1312.1C315.2,1326.4 318.9,1348.0 322.6,1348.0C326.3,1348.0 330.0,1321.9 333.7,1305.9C336.2,1295.1 338.7,1275.7 341.2,1268.9C343.9,1261.7 346.5,1254.0 349.2,1254.0C351.9,1254.0 354.5,1266.7 357.2,1272.6C360.5,1279.9 363.8,1293.6 367.1,1293.6C371.8,1293.6 376.6,1265.2 381.3,1265.2C384.0,1265.2 386.7,1279.3 389.4,1283.7C391.4,1287.0 393.5,1291.7 395.5,1291.7C398.0,1291.7 400.5,1288.6 403.0,1288.6C405.5,1288.6 407.9,1299.5 410.4,1305.9C414.3,1316.1 418.2,1341.2 422.1,1341.2C426.8,1341.2 431.6,1322.0 436.3,1322.0C440.0,1322.0 443.7,1339.3 447.4,1339.3C451.1,1339.3 454.9,1307.6 458.6,1303.5C460.6,1301.2 462.7,1300.3 464.7,1299.1C466.8,1297.9 468.8,1298.0 470.9,1296.1C471.9,1295.1 473.0,1288.1 474.0,1284.0C475.1,1279.5 476.3,1275.6 477.4,1270.3C480.3,1256.7 483.3,1230.2 486.2,1218.6C489.2,1206.8 492.1,1192.0 495.1,1192.0C497.6,1192.0 500.0,1207.5 502.5,1218.6C505.0,1229.7 507.4,1254.8 509.9,1262.9C514.3,1277.4 518.8,1291.0 523.2,1291.0C526.6,1291.0 530.1,1276.9 533.5,1273.2C536.0,1270.6 538.4,1269.4 540.9,1267.3C544.6,1264.1 548.3,1257.0 552.0,1257.0C554.7,1257.0 557.4,1269.4 560.1,1277.7C563.0,1286.7 566.0,1311.6 568.9,1311.6C572.4,1311.6 575.8,1262.3 579.3,1248.1C583.2,1232.0 587.2,1212.0 591.1,1212.0C595.0,1212.0 599.0,1224.1 602.9,1233.4C605.9,1240.5 608.8,1252.0 611.8,1262.9C615.2,1275.5 618.7,1305.7 622.1,1305.7C625.5,1305.7 629.0,1280.8 632.4,1274.7C636.3,1267.7 640.3,1266.0 644.2,1259.9C647.7,1254.6 651.1,1240.4 654.6,1239.3C657.5,1238.4 660.5,1238.8 663.4,1237.8C665.9,1237.0 668.3,1210.1 670.8,1196.4C673.5,1181.3 676.3,1151.4 679.0,1151.4C681.2,1151.4 683.4,1168.4 685.6,1181.7C687.6,1193.6 689.5,1223.5 691.5,1233.4C694.5,1248.4 697.4,1263.6 700.4,1263.6C703.3,1263.6 706.3,1241.4 709.2,1233.4C711.7,1226.6 714.1,1216.4 716.6,1216.4C719.8,1216.4 723.0,1237.6 726.2,1242.2C732.1,1250.7 738.1,1258.5 744.0,1258.5C748.4,1258.5 752.9,1242.2 757.3,1242.2C761.2,1242.2 765.2,1248.8 769.1,1255.5C771.6,1259.7 774.0,1268.4 776.5,1277.7C779.7,1289.7 782.8,1327.9 786.0,1327.9C789.2,1327.9 792.4,1287.4 795.6,1262.9C797.6,1247.6 799.6,1218.3 801.6,1211.2C803.6,1204.2 805.5,1197.9 807.5,1197.9C810.9,1197.9 814.4,1213.9 817.8,1226.0C821.2,1238.1 824.7,1265.0 828.1,1277.7C830.6,1286.8 833.0,1294.1 835.5,1299.8C838.7,1307.2 841.9,1317.5 845.1,1317.5C848.3,1317.5 851.5,1267.8 854.7,1255.5C857.2,1246.0 859.6,1234.8 862.1,1234.8C866.0,1234.8 870.0,1267.3 873.9,1267.3C876.9,1267.3 879.8,1233.9 882.8,1218.6C884.5,1209.8 886.2,1193.5 887.9,1193.5C890.3,1193.5 892.6,1213.9 895.0,1225.0C897.3,1236.0 899.7,1260.0 902.0,1260.0C905.4,1260.0 908.9,1231.8 912.3,1224.5C914.8,1219.2 917.2,1217.7 919.7,1212.7C922.2,1207.7 924.6,1197.7 927.1,1192.0C930.0,1185.3 933.0,1175.0 935.9,1175.0C939.6,1175.0 943.3,1200.9 947.0,1200.9C950.7,1200.9 954.4,1174.3 958.1,1174.3C962.1,1174.3 966.2,1200.5 970.2,1213.4C973.9,1225.2 977.6,1248.3 981.3,1248.3C985.6,1248.3 989.8,1206.2 994.1,1180.3C996.1,1168.4 998.0,1147.8 1000.0,1140.0C1002.6,1129.6 1005.3,1118.7 1007.9,1118.7C1010.0,1118.7 1012.2,1137.6 1014.3,1147.2C1016.5,1156.9 1018.6,1176.6 1020.8,1176.6C1023.5,1176.6 1026.3,1140.1 1029.0,1125.1C1030.9,1114.9 1032.7,1097.6 1034.6,1097.6C1037.7,1097.6 1040.7,1099.4 1043.8,1099.4C1046.5,1099.4 1049.3,1084.7 1052.0,1084.7C1054.8,1084.7 1057.5,1100.2 1060.3,1110.4C1062.7,1119.4 1065.2,1129.8 1067.6,1143.5C1070.1,1157.4 1072.5,1186.8 1075.0,1198.7C1076.8,1207.6 1078.7,1218.9 1080.5,1218.9C1082.6,1218.9 1084.8,1213.4 1086.9,1213.4C1089.1,1213.4 1091.2,1235.1 1093.4,1244.6C1096.2,1256.7 1098.9,1277.7 1101.7,1277.7C1104.4,1277.7 1107.2,1237.1 1109.9,1217.1C1111.6,1204.6 1113.3,1188.3 1115.0,1180.0C1117.0,1170.2 1119.0,1158.2 1121.0,1158.2C1123.4,1158.2 1125.9,1180.1 1128.3,1198.7C1130.1,1212.7 1132.0,1246.4 1133.8,1263.0C1135.6,1279.6 1137.5,1298.2 1139.3,1303.5C1141.8,1310.6 1144.2,1310.6 1146.7,1316.3C1149.1,1322.0 1151.6,1333.0 1154.0,1342.1C1155.9,1349.0 1157.7,1361.3 1159.6,1364.0C1161.1,1366.1 1162.5,1368.0 1164.0,1368.0C1244.7,1368.0 1325.3,1368.0 1406.0,1368.0C1409.4,1368.0 1412.9,1356.6 1416.3,1353.2C1419.3,1350.2 1422.4,1346.4 1425.4,1346.4C1428.1,1346.4 1430.7,1349.5 1433.4,1352.1C1435.7,1354.3 1437.9,1362.4 1440.2,1362.4C1443.3,1362.4 1446.3,1340.8 1449.4,1333.8C1451.7,1328.6 1453.9,1324.4 1456.2,1321.3C1458.7,1317.9 1461.1,1313.3 1463.6,1313.3C1466.5,1313.3 1469.3,1319.6 1472.2,1323.6C1474.9,1327.4 1477.5,1334.6 1480.2,1337.3C1482.9,1340.0 1485.5,1342.0 1488.2,1343.0C1490.5,1343.8 1492.7,1344.7 1495.0,1344.7C1497.3,1344.7 1499.6,1341.9 1501.9,1338.4C1503.8,1335.5 1505.7,1322.3 1507.6,1315.6C1510.3,1306.2 1512.9,1290.5 1515.6,1290.5C1518.3,1290.5 1520.9,1299.7 1523.6,1304.2C1525.7,1307.7 1527.7,1314.4 1529.8,1314.4C1531.9,1314.4 1534.0,1303.3 1536.1,1299.6C1538.0,1296.3 1539.9,1291.6 1541.8,1291.6C1544.7,1291.6 1547.5,1299.6 1550.4,1299.6C1552.5,1299.6 1554.6,1291.3 1556.7,1283.6C1558.6,1276.6 1560.5,1257.8 1562.4,1247.1C1563.9,1238.6 1565.4,1228.0 1566.9,1224.2C1568.6,1219.9 1570.4,1215.7 1572.1,1215.7C1573.8,1215.7 1575.5,1226.9 1577.2,1235.7C1578.7,1243.6 1580.3,1258.4 1581.8,1269.9C1583.3,1281.2 1584.8,1295.8 1586.3,1304.2C1587.8,1312.8 1589.4,1324.7 1590.9,1324.7C1593.2,1324.7 1595.5,1317.4 1597.8,1316.7C1599.7,1316.1 1601.6,1315.6 1603.5,1315.6C1606.2,1315.6 1608.8,1320.1 1611.5,1320.1C1614.9,1320.1 1618.3,1314.4 1621.7,1308.7C1623.2,1306.1 1624.8,1299.0 1626.3,1296.2C1628.6,1292.0 1630.9,1287.0 1633.2,1287.0C1635.5,1287.0 1637.7,1299.0 1640.0,1304.2C1642.8,1310.5 1645.5,1321.3 1648.3,1321.3C1650.5,1321.3 1652.8,1318.0 1655.0,1316.0C1656.9,1314.2 1658.9,1312.7 1660.8,1309.9C1663.1,1306.5 1665.4,1298.8 1667.7,1292.7C1670.4,1285.6 1673.0,1269.9 1675.7,1269.9C1678.0,1269.9 1680.2,1282.2 1682.5,1287.0C1684.8,1291.9 1687.1,1295.8 1689.4,1299.6C1691.7,1303.4 1693.9,1304.5 1696.2,1309.9C1697.7,1313.6 1699.3,1325.9 1700.8,1332.7C1702.7,1341.1 1704.6,1350.1 1706.5,1355.5C1708.4,1360.9 1710.3,1368.0 1712.2,1368.0C1719.0,1368.0 1725.9,1368.0 1732.7,1368.0C1735.0,1368.0 1737.3,1362.1 1739.6,1360.1C1744.9,1355.5 1750.3,1353.9 1755.6,1349.8C1760.5,1346.0 1765.5,1344.0 1770.4,1336.1C1772.7,1332.4 1775.0,1317.6 1777.3,1309.9C1778.8,1304.9 1780.3,1298.2 1781.8,1296.2C1784.1,1293.1 1786.4,1290.5 1788.7,1290.5C1790.8,1290.5 1792.9,1293.1 1795.0,1295.0C1797.5,1297.2 1799.9,1304.2 1802.4,1304.2C1805.1,1304.2 1807.7,1296.9 1810.4,1292.7C1813.4,1287.9 1816.5,1276.8 1819.5,1276.8C1821.8,1276.8 1824.0,1289.5 1826.3,1298.4C1827.8,1304.4 1829.4,1315.0 1830.9,1321.3C1832.4,1327.6 1834.0,1337.3 1835.5,1337.3C1837.4,1337.3 1839.3,1325.4 1841.2,1315.6C1842.7,1307.9 1844.2,1289.4 1845.7,1281.3C1847.6,1270.8 1849.6,1257.4 1851.5,1257.4C1853.4,1257.4 1855.3,1263.6 1857.2,1269.9C1858.7,1274.9 1860.2,1289.0 1861.7,1298.4C1863.2,1308.0 1864.8,1321.1 1866.3,1327.0C1868.6,1335.8 1870.9,1345.3 1873.2,1345.3C1875.5,1345.3 1877.7,1336.9 1880.0,1336.1C1880.8,1335.8 1881.5,1335.6 1882.3,1335.6C1885.3,1335.6 1888.4,1341.4 1891.4,1341.4C1893.6,1341.4 1895.8,1336.5 1898.0,1334.0C1900.3,1331.3 1902.7,1325.8 1905.0,1325.8C1908.0,1325.8 1911.1,1331.4 1914.1,1334.9C1916.9,1338.2 1919.7,1346.6 1922.5,1346.6C1924.9,1346.6 1927.2,1319.3 1929.6,1309.0C1931.3,1301.5 1933.1,1292.9 1934.8,1289.6C1936.9,1285.7 1938.9,1281.8 1941.0,1281.8C1943.2,1281.8 1945.5,1295.2 1947.7,1299.9C1949.4,1303.5 1951.2,1309.0 1952.9,1309.0C1955.5,1309.0 1958.1,1289.2 1960.7,1276.6C1963.3,1264.0 1965.9,1247.0 1968.5,1231.3C1970.2,1220.9 1972.0,1205.2 1973.7,1198.9C1975.2,1193.5 1976.7,1187.2 1978.2,1187.2C1979.7,1187.2 1981.2,1196.2 1982.7,1205.3C1984.0,1213.2 1985.3,1238.7 1986.6,1250.7C1988.3,1266.7 1990.1,1284.3 1991.8,1289.6C1993.1,1293.6 1994.4,1297.3 1995.7,1297.3C1997.4,1297.3 1999.2,1294.8 2000.9,1294.8C2003.0,1294.8 2005.2,1300.0 2007.3,1305.1C2009.0,1309.3 2010.8,1320.2 2012.5,1328.4C2014.2,1336.6 2016.0,1350.1 2017.7,1354.3C2019.6,1359.0 2021.6,1363.4 2023.5,1363.4C2027.6,1363.4 2031.7,1360.4 2035.8,1357.0C2038.8,1354.5 2041.9,1347.5 2044.9,1341.4C2047.9,1335.3 2051.0,1327.0 2054.0,1319.4C2056.2,1314.0 2058.3,1305.6 2060.5,1302.5C2062.2,1300.1 2063.9,1297.3 2065.6,1297.3C2068.2,1297.3 2070.8,1297.3 2073.4,1297.3C2076.6,1297.3 2079.9,1279.2 2083.1,1279.2C2085.5,1279.2 2087.9,1289.6 2090.3,1296.0C2092.0,1300.5 2093.7,1311.6 2095.4,1311.6C2097.6,1311.6 2099.7,1291.8 2101.9,1283.1C2104.7,1271.8 2107.5,1252.0 2110.3,1252.0C2112.7,1252.0 2115.1,1264.1 2117.5,1270.1C2120.3,1277.1 2123.1,1290.9 2125.9,1290.9C2128.7,1290.9 2131.5,1284.2 2134.3,1276.6C2136.5,1270.7 2138.6,1248.9 2140.8,1237.7C2141.2,1235.6 2141.6,1233.9 2142.0,1232.0" fill="none" stroke="#729ec7" stroke-width="6" stroke-linejoin="round"/>
</g>
<path d="M1185.5,65.7V1366" stroke="#ef8228" stroke-width="5.4" stroke-dasharray="34.8 31.79"/>
<g transform="translate(0,0)">
<rect x="1626.7" y="52.6" width="150.3" height="74" rx="2" fill="url(#lg)" stroke="#aecb8f" stroke-width="5.6"/>
<rect x="1626.7" y="137.3" width="150.3" height="73.6" rx="2" fill="url(#lo)" stroke="#fdb060" stroke-width="5.6"/>
<path d="M1624,259H1779" stroke="#729ec7" stroke-width="5.6" stroke-linecap="round"/>
<text transform="translate(1797,112.7) scale(1,1.06)" class="lg">Se</text>
<text transform="translate(1797,197.3) scale(1,1.06)" class="lg">Sn</text>
<text transform="translate(1797,281.8) scale(1,1.06)" class="lg">001</text>
</g>
<g transform="translate(0,668.6)">
<rect x="1626.7" y="52.6" width="150.3" height="74" rx="2" fill="url(#lg)" stroke="#aecb8f" stroke-width="5.6"/>
<rect x="1626.7" y="137.3" width="150.3" height="73.6" rx="2" fill="url(#lo)" stroke="#fdb060" stroke-width="5.6"/>
<path d="M1624,259H1779" stroke="#729ec7" stroke-width="5.6" stroke-linecap="round"/>
<text transform="translate(1797,112.7) scale(1,1.06)" class="lg">Se</text>
<text transform="translate(1797,197.3) scale(1,1.06)" class="lg">Sn</text>
<text transform="translate(1797,281.8) scale(1,1.06)" class="lg">011</text>
</g>
<g class="tl"><text transform="translate(231.7,1480.5) scale(1.02,1.065)" text-anchor="middle">-5</text><text transform="translate(422.7,1480.5) scale(1.02,1.065)" text-anchor="middle">-4</text><text transform="translate(613.7,1480.5) scale(1.02,1.065)" text-anchor="middle">-3</text><text transform="translate(804.7,1480.5) scale(1.02,1.065)" text-anchor="middle">-2</text><text transform="translate(995.7,1480.5) scale(1.02,1.065)" text-anchor="middle">-1</text><text transform="translate(1186.8,1480.5) scale(1.02,1.065)" text-anchor="middle">0</text><text transform="translate(1377.8,1480.5) scale(1.02,1.065)" text-anchor="middle">1</text><text transform="translate(1568.8,1480.5) scale(1.02,1.065)" text-anchor="middle">2</text><text transform="translate(1759.8,1480.5) scale(1.02,1.065)" text-anchor="middle">3</text><text transform="translate(1950.8,1480.5) scale(1.02,1.065)" text-anchor="middle">4</text><text transform="translate(2141.8,1480.5) scale(1.02,1.065)" text-anchor="middle">5</text></g>
<text transform="translate(1187,1618.5) scale(1,1.04)" text-anchor="middle" class="ax">Energy (eV)</text>
<text transform="translate(98.8,660.6) rotate(-90) scale(1,1.05)" text-anchor="middle" class="ax">DOS (a. u.)</text>
</svg>
</body></html>
